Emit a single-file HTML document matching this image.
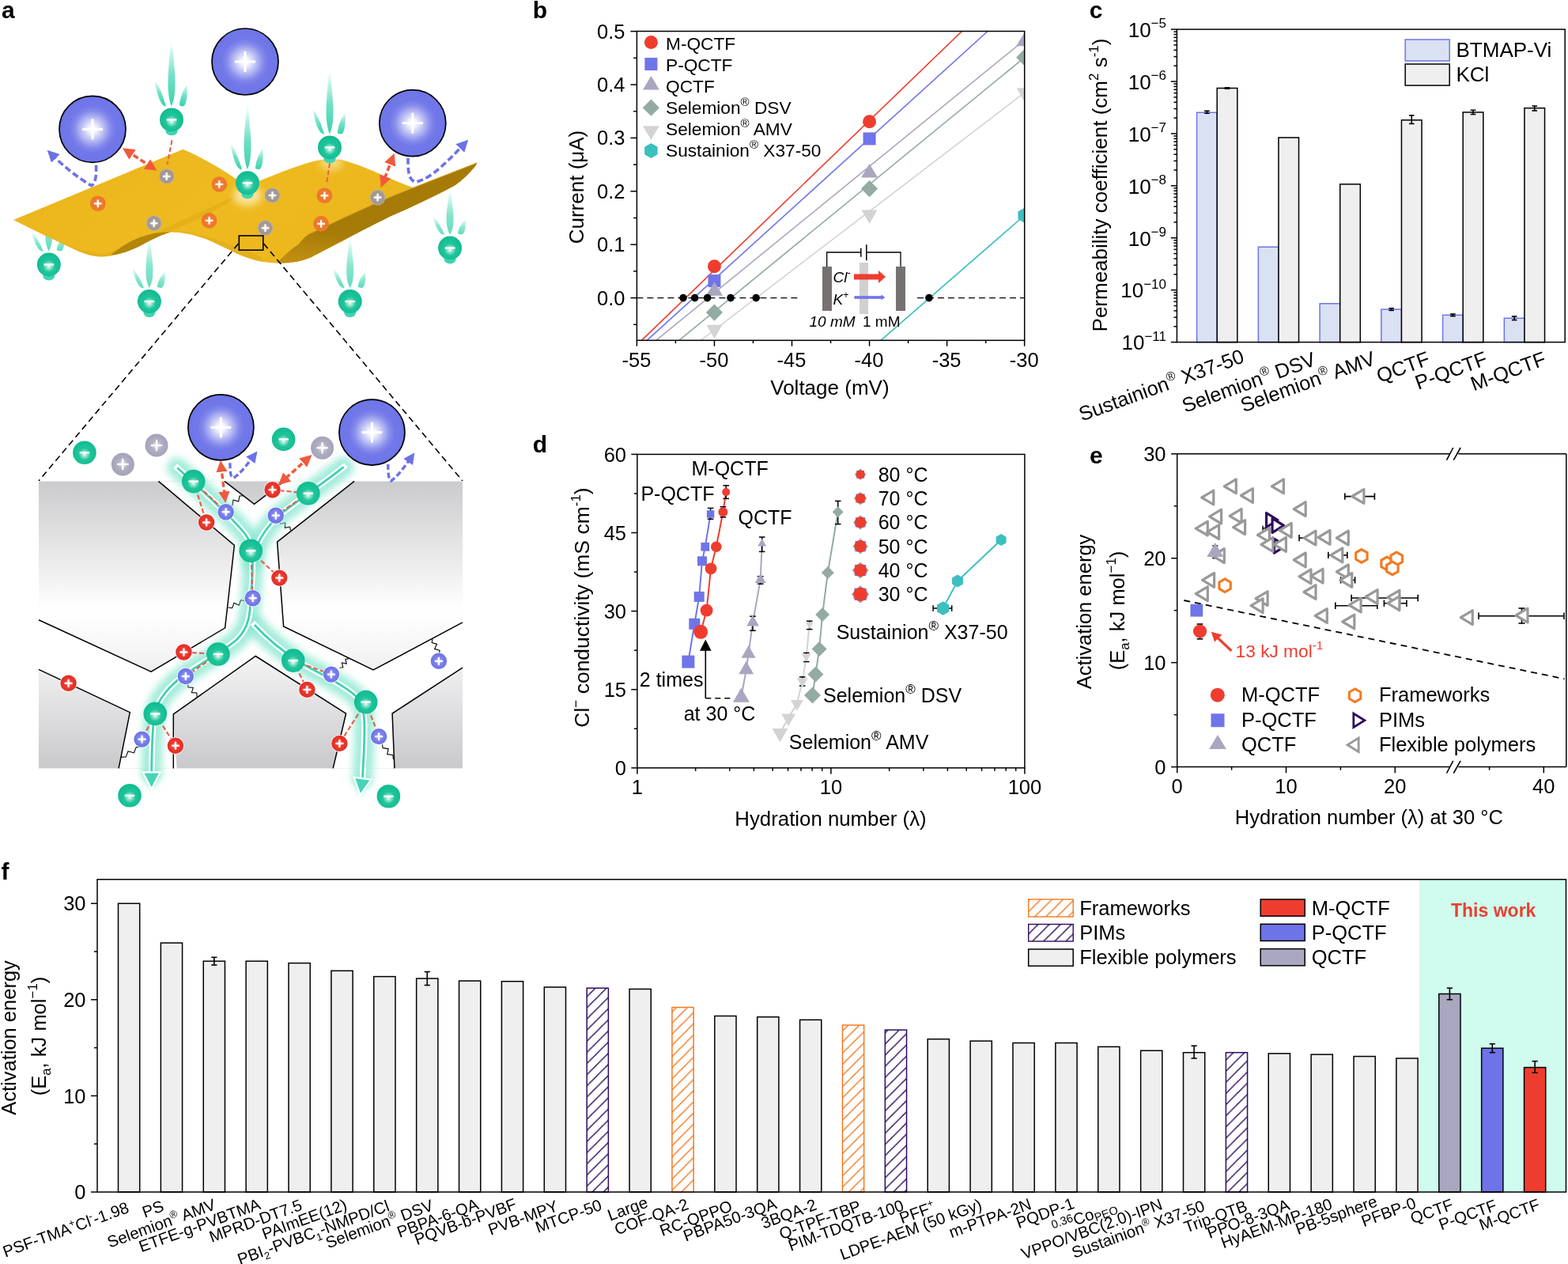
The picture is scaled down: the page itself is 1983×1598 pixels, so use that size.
<!DOCTYPE html>
<html><head><meta charset="utf-8"><title>Figure</title>
<style>html,body{margin:0;padding:0;background:#fff;overflow:hidden}svg{display:block}</style>
</head><body>
<svg width="1983" height="1598" viewBox="0 0 1983 1598" font-family="'Liberation Sans', Arial, Helvetica, sans-serif">
<rect width="1983" height="1598" fill="#fff"/>
<defs>
<radialGradient id="gBig" cx="0.5" cy="0.5" r="0.5" fx="0.5" fy="0.5">
 <stop offset="0" stop-color="#ffffff"/><stop offset="0.12" stop-color="#f3f4fd"/><stop offset="0.33" stop-color="#bcbff4"/>
 <stop offset="0.55" stop-color="#858aec"/><stop offset="0.7" stop-color="#7278e8"/><stop offset="1" stop-color="#6e75e8"/>
</radialGradient>
<radialGradient id="gGreen" cx="0.5" cy="0.55" r="0.5" fx="0.5" fy="0.58">
 <stop offset="0" stop-color="#f4fdfa"/><stop offset="0.22" stop-color="#8fe3cb"/>
 <stop offset="0.5" stop-color="#20c59b"/><stop offset="1" stop-color="#12bc91"/>
</radialGradient>
<radialGradient id="gGrey" cx="0.5" cy="0.5" r="0.5">
 <stop offset="0" stop-color="#e8e4e2"/><stop offset="0.4" stop-color="#a89d97"/><stop offset="0.8" stop-color="#a0958f"/><stop offset="1" stop-color="#bdb4af"/>
</radialGradient>
<radialGradient id="gGrey2" cx="0.5" cy="0.5" r="0.5">
 <stop offset="0" stop-color="#f2f2f6"/><stop offset="0.45" stop-color="#b1afc2"/><stop offset="1" stop-color="#a4a2b8"/>
</radialGradient>
<radialGradient id="gOrange" cx="0.5" cy="0.5" r="0.5">
 <stop offset="0" stop-color="#f9b68a"/><stop offset="0.4" stop-color="#ef7d30"/><stop offset="1" stop-color="#ec7528"/>
</radialGradient>
<radialGradient id="gRed" cx="0.5" cy="0.5" r="0.5">
 <stop offset="0" stop-color="#ffc9c3"/><stop offset="0.45" stop-color="#ec3a30"/><stop offset="1" stop-color="#e02e25"/>
</radialGradient>
<radialGradient id="gBlueS" cx="0.5" cy="0.5" r="0.5">
 <stop offset="0" stop-color="#e4e6fd"/><stop offset="0.45" stop-color="#7f84ec"/><stop offset="1" stop-color="#6b71e6"/>
</radialGradient>
<linearGradient id="gStreak" x1="0" y1="1" x2="0" y2="0">
 <stop offset="0" stop-color="#3ad3ad"/><stop offset="0.45" stop-color="#6fe0c5"/><stop offset="0.8" stop-color="#c8f5ea"/><stop offset="1" stop-color="#ffffff" stop-opacity="0.3"/>
</linearGradient>
<linearGradient id="gSheet" x1="0" y1="0" x2="1" y2="0.3">
 <stop offset="0" stop-color="#eab51c"/><stop offset="0.5" stop-color="#eeba1f"/><stop offset="1" stop-color="#ebb61d"/>
</linearGradient>
<linearGradient id="gSheetDark" x1="0" y1="1" x2="0.2" y2="0">
 <stop offset="0" stop-color="#c49211"/><stop offset="0.35" stop-color="#a67b08"/><stop offset="1" stop-color="#a57a07"/>
</linearGradient>
<linearGradient id="gGreyBg" x1="0" y1="0" x2="0" y2="1">
 <stop offset="0" stop-color="#cbcbcd"/><stop offset="0.45" stop-color="#ffffff"/><stop offset="0.6" stop-color="#f5f5f6"/><stop offset="1" stop-color="#c9c8cb"/>
</linearGradient>
<filter id="blur3" x="-50%" y="-50%" width="200%" height="200%"><feGaussianBlur stdDeviation="3"/></filter>
<filter id="blur1" x="-50%" y="-50%" width="200%" height="200%"><feGaussianBlur stdDeviation="1.2"/></filter>
<filter id="blur5" x="-50%" y="-50%" width="200%" height="200%"><feGaussianBlur stdDeviation="5"/></filter>
<marker id="arR" viewBox="0 0 10 10" refX="6" refY="5" markerWidth="4.2" markerHeight="4.2" orient="auto-start-reverse" markerUnits="strokeWidth"><path d="M0,0 L10,5 L0,10 z" fill="#ef5a3d"/></marker>
<marker id="arB" viewBox="0 0 10 10" refX="6" refY="5" markerWidth="4.2" markerHeight="4.2" orient="auto" markerUnits="strokeWidth"><path d="M0,0 L10,5 L0,10 z" fill="#6c72e6"/></marker>
</defs><g opacity="0.8"><g><path d="M61.8,317.5 C57.12,310.06 56.6,297.66 57.9,285.26 C59.72,269.9 60.8,257.5 61.8,257.5 C62.8,257.5 63.88,269.9 65.7,285.26 C67,297.66 66.48,310.06 61.8,317.5 Z" fill="url(#gStreak)"/><path d="M54.8,317.5 C48.8,318.5 43.8,308.82 39.8,292.7 C45.8,298.9 50.8,307.58 54.8,317.5 Z" fill="url(#gStreak)"/><path d="M75.8,317.5 C80.8,318 81.8,307.58 81.8,296.42 C76.8,302.62 71.8,310.06 71.8,316.5 Z" fill="url(#gStreak)"/></g></g><g opacity="0.8"><g><path d="M188.9,364.1 C184.22,356.18 183.7,342.98 185,329.78 C186.82,313.3 187.9,300.1 188.9,300.1 C189.9,300.1 190.98,313.3 192.8,329.78 C194.1,342.98 193.58,356.18 188.9,364.1 Z" fill="url(#gStreak)"/><path d="M181.9,364.1 C175.9,365.1 170.9,354.86 166.9,337.7 C172.9,344.3 177.9,353.54 181.9,364.1 Z" fill="url(#gStreak)"/><path d="M202.9,364.1 C207.9,364.6 208.9,353.54 208.9,341.66 C203.9,348.26 198.9,356.18 198.9,363.1 Z" fill="url(#gStreak)"/></g></g><g opacity="0.8"><g><path d="M442.7,364.1 C438.02,356.18 437.5,342.98 438.8,329.78 C440.62,313.3 441.7,300.1 442.7,300.1 C443.7,300.1 444.78,313.3 446.6,329.78 C447.9,342.98 447.38,356.18 442.7,364.1 Z" fill="url(#gStreak)"/><path d="M435.7,364.1 C429.7,365.1 424.7,354.86 420.7,337.7 C426.7,344.3 431.7,353.54 435.7,364.1 Z" fill="url(#gStreak)"/><path d="M456.7,364.1 C461.7,364.6 462.7,353.54 462.7,341.66 C457.7,348.26 452.7,356.18 452.7,363.1 Z" fill="url(#gStreak)"/></g></g><g opacity="0.8"><g><path d="M569.1,296.5 C564.42,289.3 563.9,277.3 565.2,265.3 C567.02,250.5 568.1,238.5 569.1,238.5 C570.1,238.5 571.18,250.5 573,265.3 C574.3,277.3 573.78,289.3 569.1,296.5 Z" fill="url(#gStreak)"/><path d="M562.1,296.5 C556.1,297.5 551.1,288.1 547.1,272.5 C553.1,278.5 558.1,286.9 562.1,296.5 Z" fill="url(#gStreak)"/><path d="M583.1,296.5 C588.1,297 589.1,286.9 589.1,276.1 C584.1,282.1 579.1,289.3 579.1,295.5 Z" fill="url(#gStreak)"/></g></g><clipPath id="sheetclip"><path d="M17,278 L231.4,188.8 C255,199 280,213 298,226 C306,231 318,233 330,228 C355,218 385,206 403,202.6 C412,201 422,201 432,202 C450,207 465,213 477.5,218.7 C495,226 510,233 522.7,237.3 L603.4,205.8 L601.8,209 C595,218 585,228 574.3,234.9 C550,248 520,262 493.6,273.6 C460,290 420,312 393.6,325.2 C380,331 365,333 350,332.6 C330,332 318,328 305,323 C290,316 278,310 265.8,304.5 C250,298 232,293 215.8,293.5 C200,298 188,305 177.5,310.7 C165,317 150,322.5 131.3,324.5 C120,325 110,322 100,318 C70,304 40,290 17,278 Z"/></clipPath><path d="M17,278 L231.4,188.8 C255,199 280,213 298,226 C306,231 318,233 330,228 C355,218 385,206 403,202.6 C412,201 422,201 432,202 C450,207 465,213 477.5,218.7 C495,226 510,233 522.7,237.3 L603.4,205.8 L601.8,209 C595,218 585,228 574.3,234.9 C550,248 520,262 493.6,273.6 C460,290 420,312 393.6,325.2 C380,331 365,333 350,332.6 C330,332 318,328 305,323 C290,316 278,310 265.8,304.5 C250,298 232,293 215.8,293.5 C200,298 188,305 177.5,310.7 C165,317 150,322.5 131.3,324.5 C120,325 110,322 100,318 C70,304 40,290 17,278 Z" fill="url(#gSheet)"/><g clip-path="url(#sheetclip)"><path d="M60,300 C90,312 110,320 131.3,321 C150,316 170,304 215.8,292 C250,292 290,308 330,325 L340,340 L50,340 Z" fill="#c9950f" opacity="0.22"/><path d="M160,312 C200,292 250,270 300,246 C290,258 250,280 200,298 C185,303 172,308 160,312Z" fill="#d4a014" opacity="0.35"/></g><path d="M140,322.5 C150,314 162,306 177,300 C190,295 203,293 215.8,293.5 C200,298 188,305 177.5,310.7 C165,317 152,321.5 140,322.5 Z" fill="#b3850a"/><path d="M522.7,237.3 L603.4,205.8 L601.8,209 C595,218 585,228 574.3,234.9 C550,248 520,262 493.6,273.6 C460,290 420,312 393.6,325.2 C380,331 365,333 350,332.6 C360,322 370,314 377.5,309 C383,302 388,297 393.6,294.6 C420,282 450,268 477.5,255.8 C495,248 510,242 522.7,237.3 Z" fill="url(#gSheetDark)"/><path d="M393.6,294.6 C420,282 450,268 477.5,255.8 C495,248 510,242 522.7,237.3 L603.4,205.8" fill="none" stroke="#d9a92a" stroke-width="1.2" opacity="0.8"/><ellipse cx="313" cy="247" rx="18" ry="13" fill="#fff3c4" opacity="0.75" filter="url(#blur5)"/><ellipse cx="419" cy="206" rx="14" ry="9" fill="#fff3c4" opacity="0.6" filter="url(#blur5)"/><g><path d="M217,134.4 C212.32,123.96 211.8,106.56 213.1,89.16 C214.92,66.8 216,49.4 217,49.4 C218,49.4 219.08,66.8 220.9,89.16 C222.2,106.56 221.68,123.96 217,134.4 Z" fill="url(#gStreak)"/><path d="M210,134.4 C204,135.4 199,122.22 195,99.6 C201,108.3 206,120.48 210,134.4 Z" fill="url(#gStreak)"/><path d="M231,134.4 C236,134.9 237,120.48 237,104.82 C232,113.52 227,123.96 227,133.4 Z" fill="url(#gStreak)"/></g><g><path d="M313,214.3 C308.32,203.98 307.8,186.78 309.1,169.58 C310.92,147.5 312,130.3 313,130.3 C314,130.3 315.08,147.5 316.9,169.58 C318.2,186.78 317.68,203.98 313,214.3 Z" fill="url(#gStreak)"/><path d="M306,214.3 C300,215.3 295,202.26 291,179.9 C297,188.5 302,200.54 306,214.3 Z" fill="url(#gStreak)"/><path d="M327,214.3 C332,214.8 333,200.54 333,185.06 C328,193.66 323,203.98 323,213.3 Z" fill="url(#gStreak)"/></g><g><path d="M417,169.4 C412.32,159.32 411.8,142.52 413.1,125.72 C414.92,104.2 416,87.4 417,87.4 C418,87.4 419.08,104.2 420.9,125.72 C422.2,142.52 421.68,159.32 417,169.4 Z" fill="url(#gStreak)"/><path d="M410,169.4 C404,170.4 399,157.64 395,135.8 C401,144.2 406,155.96 410,169.4 Z" fill="url(#gStreak)"/><path d="M431,169.4 C436,169.9 437,155.96 437,140.84 C432,149.24 427,159.32 427,168.4 Z" fill="url(#gStreak)"/></g><circle cx="310" cy="78" r="42" fill="url(#gBig)" stroke="#000" stroke-width="1.7"/><rect x="296.98" y="76.5" width="26.04" height="3" fill="#fff"/><rect x="308.5" y="64.98" width="3" height="26.04" fill="#fff"/><circle cx="117" cy="163.3" r="42" fill="url(#gBig)" stroke="#000" stroke-width="1.7"/><rect x="103.98" y="161.8" width="26.04" height="3" fill="#fff"/><rect x="115.5" y="150.28" width="3" height="26.04" fill="#fff"/><circle cx="521.8" cy="155.7" r="42" fill="url(#gBig)" stroke="#000" stroke-width="1.7"/><rect x="508.78" y="154.2" width="26.04" height="3" fill="#fff"/><rect x="520.3" y="142.68" width="3" height="26.04" fill="#fff"/><path d="M160,190.5 L193.5,212.5" fill="none" stroke="#ef5a3d" stroke-width="3.6" stroke-dasharray="7,3.5" marker-start="url(#arR)" marker-end="url(#arR)"/><path d="M496.5,199.5 L484,231.5" fill="none" stroke="#ef5a3d" stroke-width="3.6" stroke-dasharray="7,3.5" marker-start="url(#arR)" marker-end="url(#arR)"/><path d="M217.5,177.3 L211.5,208" fill="none" stroke="#ee5f4f" stroke-width="2.1" stroke-dasharray="6,3"/><path d="M417,206.4 L412.8,233" fill="none" stroke="#ee5f4f" stroke-width="2.1" stroke-dasharray="6,3"/><path d="M121.5,208.8 C122,222 121,232 115.8,234.6 C100,226 80,210 64,194" fill="none" stroke="#6c72e6" stroke-width="3.6" stroke-dasharray="8,4" marker-end="url(#arB)"/><path d="M516,199.7 C516,215 516,228 526,230 C545,226 565,205 588,181" fill="none" stroke="#6c72e6" stroke-width="3.6" stroke-dasharray="8,4" marker-end="url(#arB)"/><circle cx="210.7" cy="223" r="9.8" fill="url(#gGrey)"/><rect x="205.8" y="221.9" width="9.8" height="2.2" fill="#fff"/><rect x="209.6" y="218.1" width="2.2" height="9.8" fill="#fff"/><circle cx="194.7" cy="282.3" r="9.8" fill="url(#gGrey)"/><rect x="189.8" y="281.2" width="9.8" height="2.2" fill="#fff"/><rect x="193.6" y="277.4" width="2.2" height="9.8" fill="#fff"/><circle cx="344.5" cy="247" r="9.8" fill="url(#gGrey)"/><rect x="339.6" y="245.9" width="9.8" height="2.2" fill="#fff"/><rect x="343.4" y="242.1" width="2.2" height="9.8" fill="#fff"/><circle cx="335.5" cy="288.2" r="9.8" fill="url(#gGrey)"/><rect x="330.6" y="287.1" width="9.8" height="2.2" fill="#fff"/><rect x="334.4" y="283.3" width="2.2" height="9.8" fill="#fff"/><circle cx="477.6" cy="249.6" r="9.8" fill="url(#gGrey)"/><rect x="472.7" y="248.5" width="9.8" height="2.2" fill="#fff"/><rect x="476.5" y="244.7" width="2.2" height="9.8" fill="#fff"/><circle cx="123.8" cy="257.3" r="9.8" fill="url(#gOrange)"/><rect x="118.9" y="256.2" width="9.8" height="2.2" fill="#fff"/><rect x="122.7" y="252.4" width="2.2" height="9.8" fill="#fff"/><circle cx="277.3" cy="233" r="9.8" fill="url(#gOrange)"/><rect x="272.4" y="231.9" width="9.8" height="2.2" fill="#fff"/><rect x="276.2" y="228.1" width="2.2" height="9.8" fill="#fff"/><circle cx="264.6" cy="278.9" r="9.8" fill="url(#gOrange)"/><rect x="259.7" y="277.8" width="9.8" height="2.2" fill="#fff"/><rect x="263.5" y="274" width="2.2" height="9.8" fill="#fff"/><circle cx="410.4" cy="247.3" r="9.8" fill="url(#gOrange)"/><rect x="405.5" y="246.2" width="9.8" height="2.2" fill="#fff"/><rect x="409.3" y="242.4" width="2.2" height="9.8" fill="#fff"/><circle cx="406.1" cy="282.9" r="9.8" fill="url(#gOrange)"/><rect x="401.2" y="281.8" width="9.8" height="2.2" fill="#fff"/><rect x="405" y="278" width="2.2" height="9.8" fill="#fff"/><ellipse cx="217" cy="165.65" rx="7.5" ry="5.7" fill="#3fd4b2"/><circle cx="217" cy="151.4" r="15" fill="url(#gGreen)"/><rect x="210.7" y="150.2" width="12.6" height="2.4" fill="#fff"/><ellipse cx="313" cy="245.55" rx="7.5" ry="5.7" fill="#3fd4b2"/><circle cx="313" cy="231.3" r="15" fill="url(#gGreen)"/><rect x="306.7" y="230.1" width="12.6" height="2.4" fill="#fff"/><ellipse cx="417" cy="200.65" rx="7.5" ry="5.7" fill="#3fd4b2"/><circle cx="417" cy="186.4" r="15" fill="url(#gGreen)"/><rect x="410.7" y="185.2" width="12.6" height="2.4" fill="#fff"/><ellipse cx="61.8" cy="348.75" rx="7.5" ry="5.7" fill="#3fd4b2"/><circle cx="61.8" cy="334.5" r="15" fill="url(#gGreen)"/><rect x="55.5" y="333.3" width="12.6" height="2.4" fill="#fff"/><ellipse cx="188.9" cy="395.35" rx="7.5" ry="5.7" fill="#3fd4b2"/><circle cx="188.9" cy="381.1" r="15" fill="url(#gGreen)"/><rect x="182.6" y="379.9" width="12.6" height="2.4" fill="#fff"/><ellipse cx="442.7" cy="395.35" rx="7.5" ry="5.7" fill="#3fd4b2"/><circle cx="442.7" cy="381.1" r="15" fill="url(#gGreen)"/><rect x="436.4" y="379.9" width="12.6" height="2.4" fill="#fff"/><ellipse cx="569.1" cy="327.75" rx="7.5" ry="5.7" fill="#3fd4b2"/><circle cx="569.1" cy="313.5" r="15" fill="url(#gGreen)"/><rect x="562.8" y="312.3" width="12.6" height="2.4" fill="#fff"/><rect x="302.3" y="298" width="30.5" height="18.2" fill="none" stroke="#000" stroke-width="1.6"/><line x1="301.5" y1="308" x2="49" y2="608" stroke="#000" stroke-width="1.6" stroke-dasharray="8,5"/><line x1="333.5" y1="308" x2="585" y2="608" stroke="#000" stroke-width="1.6" stroke-dasharray="8,5"/><rect x="49" y="608.4" width="536" height="363" fill="url(#gGreyBg)"/><rect x="49" y="608.4" width="536" height="363" fill="#fff"/><clipPath id="cellclip"><path d="M49,608.4 L200.4,608.4 L296.4,689.4 L284.6,793.9 L191.1,849.2 L49,783.7 Z M283.9,608.4 L321.6,637.4 L359.4,608.4 Z M448.1,608.4 L585,608.4 L585,786.8 L472.1,847 L358.6,791.9 L350.6,685.2 Z M323.3,829.5 L437.6,902 L421.2,971.4 L223.6,971.4 L219.3,902.9 Z M49,846.4 L164.3,900.6 L150.1,971.4 L49,971.4 Z M585,844.2 L496.1,902 L498.9,971.4 L585,971.4 Z "/></clipPath><rect x="49" y="608.4" width="536" height="363" fill="url(#gGreyBg)" clip-path="url(#cellclip)"/><polyline points="200.4,608.4 296.4,689.4 284.6,793.9 191.1,849.2 49,783.7" fill="none" stroke="#000" stroke-width="1.5"/><polyline points="283.9,608.4 321.6,637.4 359.4,608.4" fill="none" stroke="#000" stroke-width="1.5"/><polyline points="448.1,608.4 350.6,685.2 358.6,791.9 472.1,847 585,786.8" fill="none" stroke="#000" stroke-width="1.5"/><polyline points="219.3,971.4 219.3,902.9 323.3,829.5 437.6,902 421.2,971.4" fill="none" stroke="#000" stroke-width="1.5"/><polyline points="49,846.4 164.3,900.6 150.1,971.4" fill="none" stroke="#000" stroke-width="1.5"/><polyline points="585,844.2 496.1,902 498.9,971.4" fill="none" stroke="#000" stroke-width="1.5"/><polyline points="288.5,639.4 293.86,639.05 295.02,632.13 301.78,633.97 302.94,627.05 308.3,626.7" fill="none" stroke="#000" stroke-width="1.1" stroke-linejoin="round"/><polyline points="288.5,768 293.72,768.69 296,762.15 302.2,765.25 304.48,758.71 309.7,759.4" fill="none" stroke="#000" stroke-width="1.1" stroke-linejoin="round"/><polyline points="353.5,657.8 354.58,662.27 360.88,660.95 360.22,667.35 366.52,666.03 367.6,670.5" fill="none" stroke="#000" stroke-width="1.1" stroke-linejoin="round"/><polyline points="429.7,844.2 433.8,843.78 432.38,837.84 438.32,839.26 436.9,833.32 441,832.9" fill="none" stroke="#000" stroke-width="1.1" stroke-linejoin="round"/><polyline points="237.7,864 237.8,868.83 244.38,869.31 242.32,875.59 248.9,876.07 249,880.9" fill="none" stroke="#000" stroke-width="1.1" stroke-linejoin="round"/><polyline points="178.4,944.4 172.16,944.61 169.4,951.81 162,949.69 159.24,956.89 153,957.1" fill="none" stroke="#000" stroke-width="1.1" stroke-linejoin="round"/><polyline points="483.4,940.2 484.1,945.67 491.16,946.61 489.74,953.59 496.8,954.53 497.5,960" fill="none" stroke="#000" stroke-width="1.1" stroke-linejoin="round"/><polyline points="555.4,827.2 556.09,822.23 549.61,820.35 552.69,814.35 546.21,812.47 546.9,807.5" fill="none" stroke="#000" stroke-width="1.1" stroke-linejoin="round"/><path d="M224.3,591.5 C250,615 290,650 310,675 C322,690 320,720 318,745 C316,770 318,790 300,808 C285,822 255,838 235,852 C215,866 198,885 195,905 C192,930 192,955 191.7,977" fill="none" stroke="#86e6cf" stroke-width="26" opacity="0.75" filter="url(#blur5)" stroke-linecap="round"/><path d="M434.6,590.4 C410,610 380,630 355,650 C335,667 322,690 319,710" fill="none" stroke="#86e6cf" stroke-width="26" opacity="0.75" filter="url(#blur5)" stroke-linecap="round"/><path d="M322,790 C340,810 360,825 380,838 C405,852 440,868 455,885 C463,900 461,930 460,955 C459,970 459,978 458.5,983" fill="none" stroke="#86e6cf" stroke-width="26" opacity="0.75" filter="url(#blur5)" stroke-linecap="round"/><path d="M224.3,591.5 C250,615 290,650 310,675 C322,690 320,720 318,745 C316,770 318,790 300,808 C285,822 255,838 235,852 C215,866 198,885 195,905 C192,930 192,955 191.7,977" fill="none" stroke="#ffffff" stroke-width="7.5" stroke-linecap="square"/><path d="M434.6,590.4 C410,610 380,630 355,650 C335,667 322,690 319,710" fill="none" stroke="#ffffff" stroke-width="7.5" stroke-linecap="square"/><path d="M322,790 C340,810 360,825 380,838 C405,852 440,868 455,885 C463,900 461,930 460,955 C459,970 459,978 458.5,983" fill="none" stroke="#ffffff" stroke-width="7.5" stroke-linecap="square"/><path d="M224.3,591.5 C250,615 290,650 310,675 C322,690 320,720 318,745 C316,770 318,790 300,808 C285,822 255,838 235,852 C215,866 198,885 195,905 C192,930 192,955 191.7,977" fill="none" stroke="#3dd2b1" stroke-width="2.8"/><path d="M434.6,590.4 C410,610 380,630 355,650 C335,667 322,690 319,710" fill="none" stroke="#3dd2b1" stroke-width="2.8"/><path d="M322,790 C340,810 360,825 380,838 C405,852 440,868 455,885 C463,900 461,930 460,955 C459,970 459,978 458.5,983" fill="none" stroke="#3dd2b1" stroke-width="2.8"/><g transform="translate(191.7,999.4) rotate(0)"><polygon points="0,0 -12.5,-24 12.5,-24" fill="#7fe6c9" opacity="0.6" filter="url(#blur3)"/><polygon points="0,-2 -11,-23 11,-23" fill="#47d4b5" stroke="#ffffff" stroke-width="2.2" stroke-linejoin="miter"/></g><g transform="translate(455.3,1007) rotate(8)"><polygon points="0,0 -12.5,-24 12.5,-24" fill="#7fe6c9" opacity="0.6" filter="url(#blur3)"/><polygon points="0,-2 -11,-23 11,-23" fill="#47d4b5" stroke="#ffffff" stroke-width="2.2" stroke-linejoin="miter"/></g><path d="M244.7,608.6 L261.1,660.5" fill="none" stroke="#ec5a48" stroke-width="2.1" stroke-dasharray="6,3"/><path d="M244.7,608.6 L285.7,647.2" fill="none" stroke="#ec5a48" stroke-width="2.1" stroke-dasharray="6,3"/><path d="M344.6,619.2 L389.8,623.7" fill="none" stroke="#ec5a48" stroke-width="2.1" stroke-dasharray="6,3"/><path d="M389.8,623.7 L348.8,651.7" fill="none" stroke="#ec5a48" stroke-width="2.1" stroke-dasharray="6,3"/><path d="M317.2,696.3 L353.3,730.6" fill="none" stroke="#ec5a48" stroke-width="2.1" stroke-dasharray="6,3"/><path d="M317.2,696.3 L319.7,756.2" fill="none" stroke="#ec5a48" stroke-width="2.1" stroke-dasharray="6,3"/><path d="M275.9,827 L232.4,824.5" fill="none" stroke="#ec5a48" stroke-width="2.1" stroke-dasharray="6,3"/><path d="M275.9,827 L234.8,855" fill="none" stroke="#ec5a48" stroke-width="2.1" stroke-dasharray="6,3"/><path d="M370.8,835.1 L418.9,852.6" fill="none" stroke="#ec5a48" stroke-width="2.1" stroke-dasharray="6,3"/><path d="M370.8,835.1 L388.4,871.9" fill="none" stroke="#ec5a48" stroke-width="2.1" stroke-dasharray="6,3"/><path d="M196.3,902.4 L179.5,934.6" fill="none" stroke="#ec5a48" stroke-width="2.1" stroke-dasharray="6,3"/><path d="M196.3,902.4 L221.9,942.7" fill="none" stroke="#ec5a48" stroke-width="2.1" stroke-dasharray="6,3"/><path d="M462.7,887.6 L429.4,939.9" fill="none" stroke="#ec5a48" stroke-width="2.1" stroke-dasharray="6,3"/><path d="M462.7,887.6 L479.1,931.1" fill="none" stroke="#ec5a48" stroke-width="2.1" stroke-dasharray="6,3"/><circle cx="285.7" cy="647.2" r="11" fill="#fff" opacity="0.8"/><circle cx="285.7" cy="647.2" r="10.2" fill="url(#gBlueS)"/><rect x="280.6" y="646.1" width="10.2" height="2.2" fill="#fff"/><rect x="284.6" y="642.1" width="2.2" height="10.2" fill="#fff"/><circle cx="348.8" cy="651.7" r="11" fill="#fff" opacity="0.8"/><circle cx="348.8" cy="651.7" r="10.2" fill="url(#gBlueS)"/><rect x="343.7" y="650.6" width="10.2" height="2.2" fill="#fff"/><rect x="347.7" y="646.6" width="2.2" height="10.2" fill="#fff"/><circle cx="319.7" cy="756.2" r="11" fill="#fff" opacity="0.8"/><circle cx="319.7" cy="756.2" r="10.2" fill="url(#gBlueS)"/><rect x="314.6" y="755.1" width="10.2" height="2.2" fill="#fff"/><rect x="318.6" y="751.1" width="2.2" height="10.2" fill="#fff"/><circle cx="234.8" cy="855" r="11" fill="#fff" opacity="0.8"/><circle cx="234.8" cy="855" r="10.2" fill="url(#gBlueS)"/><rect x="229.7" y="853.9" width="10.2" height="2.2" fill="#fff"/><rect x="233.7" y="849.9" width="2.2" height="10.2" fill="#fff"/><circle cx="418.9" cy="852.6" r="11" fill="#fff" opacity="0.8"/><circle cx="418.9" cy="852.6" r="10.2" fill="url(#gBlueS)"/><rect x="413.8" y="851.5" width="10.2" height="2.2" fill="#fff"/><rect x="417.8" y="847.5" width="2.2" height="10.2" fill="#fff"/><circle cx="179.5" cy="934.6" r="11" fill="#fff" opacity="0.8"/><circle cx="179.5" cy="934.6" r="10.2" fill="url(#gBlueS)"/><rect x="174.4" y="933.5" width="10.2" height="2.2" fill="#fff"/><rect x="178.4" y="929.5" width="2.2" height="10.2" fill="#fff"/><circle cx="479.1" cy="931.1" r="11" fill="#fff" opacity="0.8"/><circle cx="479.1" cy="931.1" r="10.2" fill="url(#gBlueS)"/><rect x="474" y="930" width="10.2" height="2.2" fill="#fff"/><rect x="478" y="926" width="2.2" height="10.2" fill="#fff"/><circle cx="554.9" cy="835.8" r="11" fill="#fff" opacity="0.8"/><circle cx="554.9" cy="835.8" r="10.2" fill="url(#gBlueS)"/><rect x="549.8" y="834.7" width="10.2" height="2.2" fill="#fff"/><rect x="553.8" y="830.7" width="2.2" height="10.2" fill="#fff"/><circle cx="261.1" cy="660.5" r="11" fill="#fff" opacity="0.8"/><circle cx="261.1" cy="660.5" r="10.2" fill="url(#gRed)"/><rect x="256" y="659.4" width="10.2" height="2.2" fill="#fff"/><rect x="260" y="655.4" width="2.2" height="10.2" fill="#fff"/><circle cx="344.6" cy="619.2" r="11" fill="#fff" opacity="0.8"/><circle cx="344.6" cy="619.2" r="10.2" fill="url(#gRed)"/><rect x="339.5" y="618.1" width="10.2" height="2.2" fill="#fff"/><rect x="343.5" y="614.1" width="2.2" height="10.2" fill="#fff"/><circle cx="353.3" cy="730.6" r="11" fill="#fff" opacity="0.8"/><circle cx="353.3" cy="730.6" r="10.2" fill="url(#gRed)"/><rect x="348.2" y="729.5" width="10.2" height="2.2" fill="#fff"/><rect x="352.2" y="725.5" width="2.2" height="10.2" fill="#fff"/><circle cx="232.4" cy="824.5" r="11" fill="#fff" opacity="0.8"/><circle cx="232.4" cy="824.5" r="10.2" fill="url(#gRed)"/><rect x="227.3" y="823.4" width="10.2" height="2.2" fill="#fff"/><rect x="231.3" y="819.4" width="2.2" height="10.2" fill="#fff"/><circle cx="86.6" cy="863.8" r="11" fill="#fff" opacity="0.8"/><circle cx="86.6" cy="863.8" r="10.2" fill="url(#gRed)"/><rect x="81.5" y="862.7" width="10.2" height="2.2" fill="#fff"/><rect x="85.5" y="858.7" width="2.2" height="10.2" fill="#fff"/><circle cx="388.4" cy="871.9" r="11" fill="#fff" opacity="0.8"/><circle cx="388.4" cy="871.9" r="10.2" fill="url(#gRed)"/><rect x="383.3" y="870.8" width="10.2" height="2.2" fill="#fff"/><rect x="387.3" y="866.8" width="2.2" height="10.2" fill="#fff"/><circle cx="221.9" cy="942.7" r="11" fill="#fff" opacity="0.8"/><circle cx="221.9" cy="942.7" r="10.2" fill="url(#gRed)"/><rect x="216.8" y="941.6" width="10.2" height="2.2" fill="#fff"/><rect x="220.8" y="937.6" width="2.2" height="10.2" fill="#fff"/><circle cx="429.4" cy="939.9" r="11" fill="#fff" opacity="0.8"/><circle cx="429.4" cy="939.9" r="10.2" fill="url(#gRed)"/><rect x="424.3" y="938.8" width="10.2" height="2.2" fill="#fff"/><rect x="428.3" y="934.8" width="2.2" height="10.2" fill="#fff"/><circle cx="244.7" cy="608.6" r="14.8" fill="url(#gGreen)"/><rect x="238.48" y="607.4" width="12.43" height="2.4" fill="#fff"/><circle cx="389.8" cy="623.7" r="14.8" fill="url(#gGreen)"/><rect x="383.58" y="622.5" width="12.43" height="2.4" fill="#fff"/><circle cx="317.2" cy="696.3" r="14.8" fill="url(#gGreen)"/><rect x="310.98" y="695.1" width="12.43" height="2.4" fill="#fff"/><circle cx="275.9" cy="827" r="14.8" fill="url(#gGreen)"/><rect x="269.68" y="825.8" width="12.43" height="2.4" fill="#fff"/><circle cx="370.8" cy="835.1" r="14.8" fill="url(#gGreen)"/><rect x="364.58" y="833.9" width="12.43" height="2.4" fill="#fff"/><circle cx="196.3" cy="902.4" r="14.8" fill="url(#gGreen)"/><rect x="190.08" y="901.2" width="12.43" height="2.4" fill="#fff"/><circle cx="462.7" cy="887.6" r="14.8" fill="url(#gGreen)"/><rect x="456.48" y="886.4" width="12.43" height="2.4" fill="#fff"/><circle cx="106.9" cy="572.2" r="14.8" fill="url(#gGreen)"/><rect x="100.68" y="571" width="12.43" height="2.4" fill="#fff"/><circle cx="358.6" cy="555.4" r="14.8" fill="url(#gGreen)"/><rect x="352.38" y="554.2" width="12.43" height="2.4" fill="#fff"/><circle cx="164" cy="1005.8" r="14.8" fill="url(#gGreen)"/><rect x="157.78" y="1004.6" width="12.43" height="2.4" fill="#fff"/><circle cx="491.4" cy="1006.8" r="14.8" fill="url(#gGreen)"/><rect x="485.18" y="1005.6" width="12.43" height="2.4" fill="#fff"/><circle cx="155.3" cy="586.9" r="14.5" fill="url(#gGrey2)"/><rect x="148.05" y="585.8" width="14.5" height="2.2" fill="#fff"/><rect x="154.2" y="579.65" width="2.2" height="14.5" fill="#fff"/><circle cx="198" cy="563.1" r="14.5" fill="url(#gGrey2)"/><rect x="190.75" y="562" width="14.5" height="2.2" fill="#fff"/><rect x="196.9" y="555.85" width="2.2" height="14.5" fill="#fff"/><circle cx="407.6" cy="566.2" r="14.5" fill="url(#gGrey2)"/><rect x="400.35" y="565.1" width="14.5" height="2.2" fill="#fff"/><rect x="406.5" y="558.95" width="2.2" height="14.5" fill="#fff"/><circle cx="279.4" cy="540.3" r="41.5" fill="url(#gBig)" stroke="#000" stroke-width="1.7"/><rect x="266.53" y="538.8" width="25.73" height="3" fill="#fff"/><rect x="277.9" y="527.43" width="3" height="25.73" fill="#fff"/><circle cx="470.4" cy="546.6" r="41.5" fill="url(#gBig)" stroke="#000" stroke-width="1.7"/><rect x="457.53" y="545.1" width="25.73" height="3" fill="#fff"/><rect x="468.9" y="533.74" width="3" height="25.73" fill="#fff"/><path d="M279.5,588 L284.5,630" fill="none" stroke="#ef5a3d" stroke-width="3.4" stroke-dasharray="7,3.5" marker-start="url(#arR)" marker-end="url(#arR)"/><path d="M390,579 L356.5,609" fill="none" stroke="#ef5a3d" stroke-width="3.6" stroke-dasharray="7,3.5" marker-start="url(#arR)" marker-end="url(#arR)"/><path d="M290.9,585.2 C291,595 291,603 295,604.4 C303,600 312,588 322,575" fill="none" stroke="#6c72e6" stroke-width="3.4" stroke-dasharray="7,3.5" marker-end="url(#arB)"/><path d="M490.7,586.9 C491,597 491,606 494.5,608 C503,602 512,590 521,577" fill="none" stroke="#6c72e6" stroke-width="3.4" stroke-dasharray="7,3.5" marker-end="url(#arB)"/>
<text x="1.9" y="22.8" font-size="30" text-anchor="start" fill="#000" font-weight="bold">a</text><text x="673.8" y="22.8" font-size="30" text-anchor="start" fill="#000" font-weight="bold">b</text><text x="1377.8" y="23.2" font-size="30" text-anchor="start" fill="#000" font-weight="bold">c</text><text x="673.8" y="571.8" font-size="30" text-anchor="start" fill="#000" font-weight="bold">d</text><text x="1377.9" y="586.3" font-size="30" text-anchor="start" fill="#000" font-weight="bold">e</text><text x="1.6" y="1111.8" font-size="30" text-anchor="start" fill="#000" font-weight="bold">f</text><clipPath id="clipb"><rect x="805.4" y="39.5" width="490.30000000000007" height="390.8"/></clipPath><line x1="805.4" y1="376.6" x2="1010" y2="376.6" stroke="#000" stroke-width="1.3" stroke-dasharray="8,5"/><line x1="1160" y1="376.6" x2="1295.7" y2="376.6" stroke="#000" stroke-width="1.3" stroke-dasharray="8,5"/><g clip-path="url(#clipb)"><line x1="811.4" y1="430.3" x2="1216.5" y2="39.5" stroke="#ee3d2f" stroke-width="1.6" /><line x1="818.1" y1="430.3" x2="1249.1" y2="39.5" stroke="#6f75e8" stroke-width="1.6" /><line x1="829.7" y1="430.3" x2="1295.7" y2="50.5" stroke="#a9a6bf" stroke-width="1.6" /><line x1="858.7" y1="430.3" x2="1295.7" y2="72.6" stroke="#93aba2" stroke-width="1.6" /><line x1="886.2" y1="430.3" x2="1295.7" y2="117.2" stroke="#d3d3d3" stroke-width="1.6" /><line x1="1113.9" y1="430.3" x2="1295.7" y2="272.3" stroke="#3cbfbf" stroke-width="1.6" /><circle cx="903.45" cy="336.8" r="8.5" fill="#ee3d2f" stroke="none" stroke-width="0"/><circle cx="1099.55" cy="153.8" r="8.5" fill="#ee3d2f" stroke="none" stroke-width="0"/><rect x="895.45" y="347.1" width="16" height="16" fill="#6f75e8" stroke="none" stroke-width="0"/><rect x="1091.55" y="167.4" width="16" height="16" fill="#6f75e8" stroke="none" stroke-width="0"/><polygon points="903.45,356.13 913.95,373.63 892.95,373.63" fill="#a9a6bf" stroke="none" stroke-width="0" stroke-linejoin="miter" /><polygon points="1099.55,207.03 1110.05,224.53 1089.05,224.53" fill="#a9a6bf" stroke="none" stroke-width="0" stroke-linejoin="miter" /><polygon points="1295.65,40.63 1306.15,58.13 1285.15,58.13" fill="#a9a6bf" stroke="none" stroke-width="0" stroke-linejoin="miter" /><polygon points="903.45,384.5 914.05,395.1 903.45,405.7 892.85,395.1" fill="#93aba2" stroke="none" stroke-width="0" stroke-linejoin="miter" /><polygon points="1099.55,228 1110.15,238.6 1099.55,249.2 1088.95,238.6" fill="#93aba2" stroke="none" stroke-width="0" stroke-linejoin="miter" /><polygon points="1295.65,62 1306.25,72.6 1295.65,83.2 1285.05,72.6" fill="#93aba2" stroke="none" stroke-width="0" stroke-linejoin="miter" /><polygon points="903.45,428.17 913.45,410.67 893.45,410.67" fill="#d3d3d3" stroke="none" stroke-width="0" stroke-linejoin="miter" /><polygon points="1099.55,282.97 1109.55,265.47 1089.55,265.47" fill="#d3d3d3" stroke="none" stroke-width="0" stroke-linejoin="miter" /><polygon points="1295.65,128.87 1305.65,111.37 1285.65,111.37" fill="#d3d3d3" stroke="none" stroke-width="0" stroke-linejoin="miter" /><polygon points="1295.65,262.8 1303.88,267.55 1303.88,277.05 1295.65,281.8 1287.42,277.05 1287.42,267.55" fill="#3cbfbf" stroke="none" stroke-width="0" stroke-linejoin="miter" /></g><circle cx="864" cy="376.6" r="4.8" fill="#000" stroke="none" stroke-width="0"/><circle cx="878.7" cy="376.6" r="4.8" fill="#000" stroke="none" stroke-width="0"/><circle cx="894.6" cy="376.6" r="4.8" fill="#000" stroke="none" stroke-width="0"/><circle cx="924" cy="376.6" r="4.8" fill="#000" stroke="none" stroke-width="0"/><circle cx="956.2" cy="376.6" r="4.8" fill="#000" stroke="none" stroke-width="0"/><circle cx="1174.9" cy="376.6" r="4.8" fill="#000" stroke="none" stroke-width="0"/><rect x="805.4" y="39.5" width="490.30000000000007" height="390.8" fill="none" stroke="#000" stroke-width="1.5"/><line x1="797.4" y1="376.6" x2="805.4" y2="376.6" stroke="#000" stroke-width="1.5" /><text x="790.5" y="385.6" font-size="25.5" text-anchor="end" fill="#000" >0.0</text><line x1="797.4" y1="309.2" x2="805.4" y2="309.2" stroke="#000" stroke-width="1.5" /><text x="790.5" y="318.2" font-size="25.5" text-anchor="end" fill="#000" >0.1</text><line x1="797.4" y1="241.8" x2="805.4" y2="241.8" stroke="#000" stroke-width="1.5" /><text x="790.5" y="250.8" font-size="25.5" text-anchor="end" fill="#000" >0.2</text><line x1="797.4" y1="174.4" x2="805.4" y2="174.4" stroke="#000" stroke-width="1.5" /><text x="790.5" y="183.4" font-size="25.5" text-anchor="end" fill="#000" >0.3</text><line x1="797.4" y1="107" x2="805.4" y2="107" stroke="#000" stroke-width="1.5" /><text x="790.5" y="116" font-size="25.5" text-anchor="end" fill="#000" >0.4</text><line x1="797.4" y1="39.6" x2="805.4" y2="39.6" stroke="#000" stroke-width="1.5" /><text x="790.5" y="48.6" font-size="25.5" text-anchor="end" fill="#000" >0.5</text><line x1="801.1" y1="410.3" x2="805.4" y2="410.3" stroke="#000" stroke-width="1.5" /><line x1="801.1" y1="342.9" x2="805.4" y2="342.9" stroke="#000" stroke-width="1.5" /><line x1="801.1" y1="275.5" x2="805.4" y2="275.5" stroke="#000" stroke-width="1.5" /><line x1="801.1" y1="208.1" x2="805.4" y2="208.1" stroke="#000" stroke-width="1.5" /><line x1="801.1" y1="140.7" x2="805.4" y2="140.7" stroke="#000" stroke-width="1.5" /><line x1="801.1" y1="73.3" x2="805.4" y2="73.3" stroke="#000" stroke-width="1.5" /><line x1="805.4" y1="430.3" x2="805.4" y2="437.7" stroke="#000" stroke-width="1.5" /><text x="804.9" y="463.6" font-size="25.5" text-anchor="middle" fill="#000" >-55</text><line x1="903.45" y1="430.3" x2="903.45" y2="437.7" stroke="#000" stroke-width="1.5" /><text x="902.95" y="463.6" font-size="25.5" text-anchor="middle" fill="#000" >-50</text><line x1="1001.5" y1="430.3" x2="1001.5" y2="437.7" stroke="#000" stroke-width="1.5" /><text x="1001" y="463.6" font-size="25.5" text-anchor="middle" fill="#000" >-45</text><line x1="1099.55" y1="430.3" x2="1099.55" y2="437.7" stroke="#000" stroke-width="1.5" /><text x="1099.05" y="463.6" font-size="25.5" text-anchor="middle" fill="#000" >-40</text><line x1="1197.6" y1="430.3" x2="1197.6" y2="437.7" stroke="#000" stroke-width="1.5" /><text x="1197.1" y="463.6" font-size="25.5" text-anchor="middle" fill="#000" >-35</text><line x1="1295.65" y1="430.3" x2="1295.65" y2="437.7" stroke="#000" stroke-width="1.5" /><text x="1295.15" y="463.6" font-size="25.5" text-anchor="middle" fill="#000" >-30</text><line x1="854.42" y1="430.3" x2="854.42" y2="434.1" stroke="#000" stroke-width="1.5" /><line x1="952.47" y1="430.3" x2="952.47" y2="434.1" stroke="#000" stroke-width="1.5" /><line x1="1050.53" y1="430.3" x2="1050.53" y2="434.1" stroke="#000" stroke-width="1.5" /><line x1="1148.58" y1="430.3" x2="1148.58" y2="434.1" stroke="#000" stroke-width="1.5" /><line x1="1246.62" y1="430.3" x2="1246.62" y2="434.1" stroke="#000" stroke-width="1.5" /><text x="1049.4" y="499.2" font-size="26" text-anchor="middle" fill="#000" >Voltage (mV)</text><text x="0" y="0" font-size="26" text-anchor="middle" fill="#000" transform="translate(737.5,236.5) rotate(-90)">Current (μA)</text><circle cx="823.4" cy="53.4" r="8.5" fill="#ee3d2f" stroke="none" stroke-width="0"/><rect x="815.4" y="73" width="16" height="16" fill="#6f75e8" stroke="none" stroke-width="0"/><polygon points="823.4,95.93 833.9,113.43 812.9,113.43" fill="#a9a6bf" stroke="none" stroke-width="0" stroke-linejoin="miter" /><polygon points="823.4,125.6 834,136.2 823.4,146.8 812.8,136.2" fill="#93aba2" stroke="none" stroke-width="0" stroke-linejoin="miter" /><polygon points="823.4,176.87 833.9,159.37 812.9,159.37" fill="#d3d3d3" stroke="none" stroke-width="0" stroke-linejoin="miter" /><polygon points="823.4,180.9 831.63,185.65 831.63,195.15 823.4,199.9 815.17,195.15 815.17,185.65" fill="#3cbfbf" stroke="none" stroke-width="0" stroke-linejoin="miter" /><text x="842" y="63" font-size="22.7" text-anchor="start" fill="#000" >M-QCTF</text><text x="842" y="89.5" font-size="22.7" text-anchor="start" fill="#000" >P-QCTF</text><text x="842" y="116.6" font-size="22.7" text-anchor="start" fill="#000" >QCTF</text><text x="842" y="143.9" font-size="22.7" text-anchor="start" fill="#000" >Selemion<tspan font-size="15" dy="-10">®</tspan><tspan dy="10"> </tspan>DSV</text><text x="842" y="171.4" font-size="22.7" text-anchor="start" fill="#000" >Selemion<tspan font-size="15" dy="-10">®</tspan><tspan dy="10"> </tspan>AMV</text><text x="842" y="198.2" font-size="22.7" text-anchor="start" fill="#000" >Sustainion<tspan font-size="15" dy="-10">®</tspan><tspan dy="10"> </tspan>X37-50</text><rect x="1040" y="337" width="12" height="56" fill="#767272"/><rect x="1133" y="337" width="12" height="56" fill="#767272"/><rect x="1087" y="332" width="11" height="65" fill="#d0d0d0"/><polyline points="1045.7,337 1045.7,319 1088.8,319" fill="none" stroke="#000" stroke-width="1.3"/><polyline points="1095.8,319 1139,319 1139,337" fill="none" stroke="#000" stroke-width="1.3"/><line x1="1088.8" y1="313.7" x2="1088.8" y2="324.8" stroke="#000" stroke-width="1.5" /><line x1="1095.8" y1="309.2" x2="1095.8" y2="329.3" stroke="#000" stroke-width="1.5" /><text x="1053.5" y="356.8" font-size="19" text-anchor="start" fill="#000" font-style="italic">Cl<tspan font-size="12" dy="-8">-</tspan></text><polygon points="1080,346.5 1111,346.5 1111,342 1120,350 1111,358 1111,353.5 1080,353.5" fill="#ee3d2f" stroke="none" stroke-width="0" stroke-linejoin="miter" /><text x="1053.5" y="384.8" font-size="19" text-anchor="start" fill="#000" font-style="italic">K<tspan font-size="12" dy="-8">+</tspan></text><rect x="1080.4" y="374.2" width="35" height="3.6" fill="#6f75e8"/><polygon points="1114.5,372.5 1119.3,375.9 1114.5,379.3" fill="#6f75e8" stroke="none" stroke-width="0" stroke-linejoin="miter" /><text x="1023.5" y="413" font-size="19" text-anchor="start" fill="#000" font-style="italic">10 mM</text><text x="1091" y="413" font-size="19" text-anchor="start" fill="#000" >1 mM</text><rect x="1513.6" y="142.24" width="25.6" height="290.36" fill="#dae1f3" stroke="#6f75e8" stroke-width="1.5"/><rect x="1539.2" y="111.45" width="25.6" height="321.15" fill="#efefef" stroke="#000" stroke-width="1.5"/><line x1="1526.4" y1="140.26" x2="1526.4" y2="143.23" stroke="#000" stroke-width="1.6" /><line x1="1523.1" y1="140.26" x2="1529.7" y2="140.26" stroke="#000" stroke-width="1.6" /><line x1="1523.1" y1="143.23" x2="1529.7" y2="143.23" stroke="#000" stroke-width="1.6" /><line x1="1552" y1="110.79" x2="1552" y2="112.11" stroke="#000" stroke-width="1.6" /><line x1="1548.7" y1="110.79" x2="1555.3" y2="110.79" stroke="#000" stroke-width="1.6" /><line x1="1548.7" y1="112.11" x2="1555.3" y2="112.11" stroke="#000" stroke-width="1.6" /><rect x="1591.35" y="312.24" width="25.6" height="120.36" fill="#dae1f3" stroke="#6f75e8" stroke-width="1.5"/><rect x="1616.95" y="173.94" width="25.6" height="258.66" fill="#efefef" stroke="#000" stroke-width="1.5"/><rect x="1669.1" y="383.82" width="25.6" height="48.78" fill="#dae1f3" stroke="#6f75e8" stroke-width="1.5"/><rect x="1694.7" y="232.87" width="25.6" height="199.73" fill="#efefef" stroke="#000" stroke-width="1.5"/><rect x="1746.85" y="391.07" width="25.6" height="41.53" fill="#dae1f3" stroke="#6f75e8" stroke-width="1.5"/><rect x="1772.45" y="151.8" width="25.6" height="280.81" fill="#efefef" stroke="#000" stroke-width="1.5"/><line x1="1759.65" y1="389.75" x2="1759.65" y2="392.39" stroke="#000" stroke-width="1.6" /><line x1="1756.35" y1="389.75" x2="1762.95" y2="389.75" stroke="#000" stroke-width="1.6" /><line x1="1756.35" y1="392.39" x2="1762.95" y2="392.39" stroke="#000" stroke-width="1.6" /><line x1="1785.25" y1="145.86" x2="1785.25" y2="156.41" stroke="#000" stroke-width="1.6" /><line x1="1781.95" y1="145.86" x2="1788.55" y2="145.86" stroke="#000" stroke-width="1.6" /><line x1="1781.95" y1="156.41" x2="1788.55" y2="156.41" stroke="#000" stroke-width="1.6" /><rect x="1824.6" y="398.32" width="25.6" height="34.28" fill="#dae1f3" stroke="#6f75e8" stroke-width="1.5"/><rect x="1850.2" y="141.91" width="25.6" height="290.69" fill="#efefef" stroke="#000" stroke-width="1.5"/><line x1="1837.4" y1="397.01" x2="1837.4" y2="399.64" stroke="#000" stroke-width="1.6" /><line x1="1834.1" y1="397.01" x2="1840.7" y2="397.01" stroke="#000" stroke-width="1.6" /><line x1="1834.1" y1="399.64" x2="1840.7" y2="399.64" stroke="#000" stroke-width="1.6" /><line x1="1863" y1="139.27" x2="1863" y2="144.54" stroke="#000" stroke-width="1.6" /><line x1="1859.7" y1="139.27" x2="1866.3" y2="139.27" stroke="#000" stroke-width="1.6" /><line x1="1859.7" y1="144.54" x2="1866.3" y2="144.54" stroke="#000" stroke-width="1.6" /><rect x="1902.35" y="402.28" width="25.6" height="30.32" fill="#dae1f3" stroke="#6f75e8" stroke-width="1.5"/><rect x="1927.95" y="136.63" width="25.6" height="295.97" fill="#efefef" stroke="#000" stroke-width="1.5"/><line x1="1915.15" y1="399.97" x2="1915.15" y2="404.59" stroke="#000" stroke-width="1.6" /><line x1="1911.85" y1="399.97" x2="1918.45" y2="399.97" stroke="#000" stroke-width="1.6" /><line x1="1911.85" y1="404.59" x2="1918.45" y2="404.59" stroke="#000" stroke-width="1.6" /><line x1="1940.75" y1="134" x2="1940.75" y2="139.93" stroke="#000" stroke-width="1.6" /><line x1="1937.45" y1="134" x2="1944.05" y2="134" stroke="#000" stroke-width="1.6" /><line x1="1937.45" y1="139.93" x2="1944.05" y2="139.93" stroke="#000" stroke-width="1.6" /><rect x="1488.4" y="37.1" width="490.8" height="395.5" fill="none" stroke="#000" stroke-width="1.5"/><line x1="1480.8" y1="432.6" x2="1488.4" y2="432.6" stroke="#000" stroke-width="1.5" /><text x="1475" y="442.4" font-size="26" text-anchor="end">10<tspan font-size="17" dy="-11.5">−11</tspan></text><line x1="1480.8" y1="366.68" x2="1488.4" y2="366.68" stroke="#000" stroke-width="1.5" /><text x="1475" y="376.48" font-size="26" text-anchor="end">10<tspan font-size="17" dy="-11.5">−10</tspan></text><line x1="1484.4" y1="412.76" x2="1488.4" y2="412.76" stroke="#000" stroke-width="1.5" /><line x1="1484.4" y1="401.15" x2="1488.4" y2="401.15" stroke="#000" stroke-width="1.5" /><line x1="1484.4" y1="392.91" x2="1488.4" y2="392.91" stroke="#000" stroke-width="1.5" /><line x1="1484.4" y1="386.53" x2="1488.4" y2="386.53" stroke="#000" stroke-width="1.5" /><line x1="1484.4" y1="381.31" x2="1488.4" y2="381.31" stroke="#000" stroke-width="1.5" /><line x1="1484.4" y1="376.89" x2="1488.4" y2="376.89" stroke="#000" stroke-width="1.5" /><line x1="1484.4" y1="373.07" x2="1488.4" y2="373.07" stroke="#000" stroke-width="1.5" /><line x1="1484.4" y1="369.7" x2="1488.4" y2="369.7" stroke="#000" stroke-width="1.5" /><line x1="1480.8" y1="300.77" x2="1488.4" y2="300.77" stroke="#000" stroke-width="1.5" /><text x="1475" y="310.57" font-size="26" text-anchor="end">10<tspan font-size="17" dy="-11.5">−9</tspan></text><line x1="1484.4" y1="346.84" x2="1488.4" y2="346.84" stroke="#000" stroke-width="1.5" /><line x1="1484.4" y1="335.23" x2="1488.4" y2="335.23" stroke="#000" stroke-width="1.5" /><line x1="1484.4" y1="327" x2="1488.4" y2="327" stroke="#000" stroke-width="1.5" /><line x1="1484.4" y1="320.61" x2="1488.4" y2="320.61" stroke="#000" stroke-width="1.5" /><line x1="1484.4" y1="315.39" x2="1488.4" y2="315.39" stroke="#000" stroke-width="1.5" /><line x1="1484.4" y1="310.98" x2="1488.4" y2="310.98" stroke="#000" stroke-width="1.5" /><line x1="1484.4" y1="307.15" x2="1488.4" y2="307.15" stroke="#000" stroke-width="1.5" /><line x1="1484.4" y1="303.78" x2="1488.4" y2="303.78" stroke="#000" stroke-width="1.5" /><line x1="1480.8" y1="234.85" x2="1488.4" y2="234.85" stroke="#000" stroke-width="1.5" /><text x="1475" y="244.65" font-size="26" text-anchor="end">10<tspan font-size="17" dy="-11.5">−8</tspan></text><line x1="1484.4" y1="280.92" x2="1488.4" y2="280.92" stroke="#000" stroke-width="1.5" /><line x1="1484.4" y1="269.32" x2="1488.4" y2="269.32" stroke="#000" stroke-width="1.5" /><line x1="1484.4" y1="261.08" x2="1488.4" y2="261.08" stroke="#000" stroke-width="1.5" /><line x1="1484.4" y1="254.69" x2="1488.4" y2="254.69" stroke="#000" stroke-width="1.5" /><line x1="1484.4" y1="249.47" x2="1488.4" y2="249.47" stroke="#000" stroke-width="1.5" /><line x1="1484.4" y1="245.06" x2="1488.4" y2="245.06" stroke="#000" stroke-width="1.5" /><line x1="1484.4" y1="241.24" x2="1488.4" y2="241.24" stroke="#000" stroke-width="1.5" /><line x1="1484.4" y1="237.87" x2="1488.4" y2="237.87" stroke="#000" stroke-width="1.5" /><line x1="1480.8" y1="168.93" x2="1488.4" y2="168.93" stroke="#000" stroke-width="1.5" /><text x="1475" y="178.73" font-size="26" text-anchor="end">10<tspan font-size="17" dy="-11.5">−7</tspan></text><line x1="1484.4" y1="215.01" x2="1488.4" y2="215.01" stroke="#000" stroke-width="1.5" /><line x1="1484.4" y1="203.4" x2="1488.4" y2="203.4" stroke="#000" stroke-width="1.5" /><line x1="1484.4" y1="195.16" x2="1488.4" y2="195.16" stroke="#000" stroke-width="1.5" /><line x1="1484.4" y1="188.78" x2="1488.4" y2="188.78" stroke="#000" stroke-width="1.5" /><line x1="1484.4" y1="183.56" x2="1488.4" y2="183.56" stroke="#000" stroke-width="1.5" /><line x1="1484.4" y1="179.14" x2="1488.4" y2="179.14" stroke="#000" stroke-width="1.5" /><line x1="1484.4" y1="175.32" x2="1488.4" y2="175.32" stroke="#000" stroke-width="1.5" /><line x1="1484.4" y1="171.95" x2="1488.4" y2="171.95" stroke="#000" stroke-width="1.5" /><line x1="1480.8" y1="103.02" x2="1488.4" y2="103.02" stroke="#000" stroke-width="1.5" /><text x="1475" y="112.82" font-size="26" text-anchor="end">10<tspan font-size="17" dy="-11.5">−6</tspan></text><line x1="1484.4" y1="149.09" x2="1488.4" y2="149.09" stroke="#000" stroke-width="1.5" /><line x1="1484.4" y1="137.48" x2="1488.4" y2="137.48" stroke="#000" stroke-width="1.5" /><line x1="1484.4" y1="129.25" x2="1488.4" y2="129.25" stroke="#000" stroke-width="1.5" /><line x1="1484.4" y1="122.86" x2="1488.4" y2="122.86" stroke="#000" stroke-width="1.5" /><line x1="1484.4" y1="117.64" x2="1488.4" y2="117.64" stroke="#000" stroke-width="1.5" /><line x1="1484.4" y1="113.23" x2="1488.4" y2="113.23" stroke="#000" stroke-width="1.5" /><line x1="1484.4" y1="109.4" x2="1488.4" y2="109.4" stroke="#000" stroke-width="1.5" /><line x1="1484.4" y1="106.03" x2="1488.4" y2="106.03" stroke="#000" stroke-width="1.5" /><line x1="1480.8" y1="37.1" x2="1488.4" y2="37.1" stroke="#000" stroke-width="1.5" /><text x="1475" y="46.9" font-size="26" text-anchor="end">10<tspan font-size="17" dy="-11.5">−5</tspan></text><line x1="1484.4" y1="83.17" x2="1488.4" y2="83.17" stroke="#000" stroke-width="1.5" /><line x1="1484.4" y1="71.57" x2="1488.4" y2="71.57" stroke="#000" stroke-width="1.5" /><line x1="1484.4" y1="63.33" x2="1488.4" y2="63.33" stroke="#000" stroke-width="1.5" /><line x1="1484.4" y1="56.94" x2="1488.4" y2="56.94" stroke="#000" stroke-width="1.5" /><line x1="1484.4" y1="51.72" x2="1488.4" y2="51.72" stroke="#000" stroke-width="1.5" /><line x1="1484.4" y1="47.31" x2="1488.4" y2="47.31" stroke="#000" stroke-width="1.5" /><line x1="1484.4" y1="43.49" x2="1488.4" y2="43.49" stroke="#000" stroke-width="1.5" /><line x1="1484.4" y1="40.12" x2="1488.4" y2="40.12" stroke="#000" stroke-width="1.5" /><rect x="1777.2" y="50" width="56" height="27" fill="#dae1f3" stroke="#6f75e8" stroke-width="1.5"/><rect x="1777.2" y="81" width="56" height="27" fill="#efefef" stroke="#000" stroke-width="1.5"/><text x="1841.5" y="72.3" font-size="26" text-anchor="start" fill="#000" >BTMAP-Vi</text><text x="1841.5" y="102.6" font-size="26" text-anchor="start" fill="#000" >KCl</text><text x="0" y="0" font-size="26" text-anchor="middle" fill="#000" transform="translate(1400,234) rotate(-90)">Permeability coefficient (cm<tspan font-size="17" dy="-11.5">2</tspan><tspan dy="11.5"> s</tspan><tspan font-size="17" dy="-11.5">-1</tspan><tspan dy="11.5">)</tspan></text><text font-size="25.5" text-anchor="end" transform="translate(1575.1,457.5) rotate(-20)">Sustainion<tspan font-size="16" dy="-10">®</tspan><tspan dy="10"> </tspan>X37-50</text><text font-size="25.5" text-anchor="end" transform="translate(1665.6,461.3) rotate(-20)">Selemion<tspan font-size="16" dy="-10">®</tspan><tspan dy="10"> </tspan>DSV</text><text font-size="25.5" text-anchor="end" transform="translate(1741,460.3) rotate(-20)">Selemion<tspan font-size="16" dy="-10">®</tspan><tspan dy="10"> </tspan>AMV</text><text font-size="25.5" text-anchor="end" transform="translate(1809.9,460.5) rotate(-20)">QCTF</text><text font-size="25.5" text-anchor="end" transform="translate(1882.6,460.5) rotate(-20)">P-QCTF</text><text font-size="25.5" text-anchor="end" transform="translate(1956.9,460.7) rotate(-20)">M-QCTF</text><clipPath id="clipd"><rect x="805.9" y="574.4" width="490.0000000000001" height="396.4"/></clipPath><polyline points="898.6,650 891.8,691.3 888,709.3 884.2,754.4 878.3,788.8 870.4,836.6" fill="none" stroke="#6f75e8" stroke-width="2"/><polyline points="918.2,622.1 914.4,647.3 905.8,691.3 899,718.8 893.6,771.7 886.2,798.8" fill="none" stroke="#ee3d2f" stroke-width="2"/><polyline points="963.7,687.4 961.7,733 952,787 946.6,826.5 943.7,846.8 937.4,881.7" fill="none" stroke="#a9a6bf" stroke-width="2"/><polyline points="1023.7,789.3 1019.8,829.9 1014.7,861.4 1007.9,889.6 997.1,907.6 986.5,926.8" fill="none" stroke="#d3d3d3" stroke-width="2"/><polyline points="1059.7,647.3 1046.9,724 1040.1,776.9 1036.1,820.4 1031.5,852.4 1027.5,879" fill="none" stroke="#93aba2" stroke-width="2"/><polyline points="1192.6,769 1211,734.5 1266.1,682.6" fill="none" stroke="#3cbfbf" stroke-width="2"/><line x1="918.2" y1="613.8" x2="918.2" y2="630.4" stroke="#000" stroke-width="1.5" /><line x1="914.4" y1="613.8" x2="922" y2="613.8" stroke="#000" stroke-width="1.5" /><line x1="914.4" y1="630.4" x2="922" y2="630.4" stroke="#000" stroke-width="1.5" /><line x1="914.4" y1="640.7" x2="914.4" y2="653.8" stroke="#000" stroke-width="1.5" /><line x1="910.6" y1="640.7" x2="918.2" y2="640.7" stroke="#000" stroke-width="1.5" /><line x1="910.6" y1="653.8" x2="918.2" y2="653.8" stroke="#000" stroke-width="1.5" /><line x1="898.6" y1="642.4" x2="898.6" y2="656.3" stroke="#000" stroke-width="1.5" /><line x1="894.8" y1="642.4" x2="902.4" y2="642.4" stroke="#000" stroke-width="1.5" /><line x1="894.8" y1="656.3" x2="902.4" y2="656.3" stroke="#000" stroke-width="1.5" /><line x1="963.7" y1="679" x2="963.7" y2="697.4" stroke="#000" stroke-width="1.5" /><line x1="959.9" y1="679" x2="967.5" y2="679" stroke="#000" stroke-width="1.5" /><line x1="959.9" y1="697.4" x2="967.5" y2="697.4" stroke="#000" stroke-width="1.5" /><line x1="952" y1="779.2" x2="952" y2="797.2" stroke="#000" stroke-width="1.5" /><line x1="948.2" y1="779.2" x2="955.8" y2="779.2" stroke="#000" stroke-width="1.5" /><line x1="948.2" y1="797.2" x2="955.8" y2="797.2" stroke="#000" stroke-width="1.5" /><line x1="1059.7" y1="633.4" x2="1059.7" y2="662.6" stroke="#000" stroke-width="1.5" /><line x1="1055.9" y1="633.4" x2="1063.5" y2="633.4" stroke="#000" stroke-width="1.5" /><line x1="1055.9" y1="662.6" x2="1063.5" y2="662.6" stroke="#000" stroke-width="1.5" /><line x1="1023.7" y1="785.2" x2="1023.7" y2="795.6" stroke="#000" stroke-width="1.5" /><line x1="1019.9" y1="785.2" x2="1027.5" y2="785.2" stroke="#000" stroke-width="1.5" /><line x1="1019.9" y1="795.6" x2="1027.5" y2="795.6" stroke="#000" stroke-width="1.5" /><line x1="1019.8" y1="825.4" x2="1019.8" y2="836.6" stroke="#000" stroke-width="1.5" /><line x1="1016" y1="825.4" x2="1023.6" y2="825.4" stroke="#000" stroke-width="1.5" /><line x1="1016" y1="836.6" x2="1023.6" y2="836.6" stroke="#000" stroke-width="1.5" /><line x1="1014.7" y1="855.8" x2="1014.7" y2="867" stroke="#000" stroke-width="1.5" /><line x1="1010.9" y1="855.8" x2="1018.5" y2="855.8" stroke="#000" stroke-width="1.5" /><line x1="1010.9" y1="867" x2="1018.5" y2="867" stroke="#000" stroke-width="1.5" /><line x1="961.7" y1="728.7" x2="961.7" y2="738.2" stroke="#000" stroke-width="1.5" /><line x1="957.9" y1="728.7" x2="965.5" y2="728.7" stroke="#000" stroke-width="1.5" /><line x1="957.9" y1="738.2" x2="965.5" y2="738.2" stroke="#000" stroke-width="1.5" /><line x1="1180.1" y1="769" x2="1203.7" y2="769" stroke="#000" stroke-width="1.5" /><line x1="1180.1" y1="765.2" x2="1180.1" y2="772.8" stroke="#000" stroke-width="1.5" /><line x1="1203.7" y1="765.2" x2="1203.7" y2="772.8" stroke="#000" stroke-width="1.5" /><rect x="893.85" y="645.25" width="9.5" height="9.5" fill="#6f75e8" stroke="none" stroke-width="0"/><rect x="886.4" y="685.9" width="10.8" height="10.8" fill="#6f75e8" stroke="none" stroke-width="0"/><rect x="882" y="703.3" width="12" height="12" fill="#6f75e8" stroke="none" stroke-width="0"/><rect x="877.7" y="747.9" width="13" height="13" fill="#6f75e8" stroke="none" stroke-width="0"/><rect x="871.3" y="781.8" width="14" height="14" fill="#6f75e8" stroke="none" stroke-width="0"/><rect x="862.4" y="828.6" width="16" height="16" fill="#6f75e8" stroke="none" stroke-width="0"/><circle cx="918.2" cy="622.1" r="5" fill="#ee3d2f" stroke="none" stroke-width="0"/><circle cx="914.4" cy="647.3" r="6" fill="#ee3d2f" stroke="none" stroke-width="0"/><circle cx="905.8" cy="691.3" r="6.8" fill="#ee3d2f" stroke="none" stroke-width="0"/><circle cx="899" cy="718.8" r="7.4" fill="#ee3d2f" stroke="none" stroke-width="0"/><circle cx="893.6" cy="771.7" r="7.9" fill="#ee3d2f" stroke="none" stroke-width="0"/><circle cx="886.2" cy="798.8" r="9" fill="#ee3d2f" stroke="none" stroke-width="0"/><polygon points="963.7,681.05 969.2,690.58 958.2,690.58" fill="#a9a6bf" stroke="none" stroke-width="0" stroke-linejoin="miter" /><polygon points="961.7,724.92 968.7,737.04 954.7,737.04" fill="#a9a6bf" stroke="none" stroke-width="0" stroke-linejoin="miter" /><polygon points="952,777.76 960,791.62 944,791.62" fill="#a9a6bf" stroke="none" stroke-width="0" stroke-linejoin="miter" /><polygon points="946.6,816.11 955.6,831.7 937.6,831.7" fill="#a9a6bf" stroke="none" stroke-width="0" stroke-linejoin="miter" /><polygon points="943.7,835.83 953.2,852.28 934.2,852.28" fill="#a9a6bf" stroke="none" stroke-width="0" stroke-linejoin="miter" /><polygon points="937.4,869.58 947.9,887.76 926.9,887.76" fill="#a9a6bf" stroke="none" stroke-width="0" stroke-linejoin="miter" /><polygon points="1023.7,795.07 1028.7,786.41 1018.7,786.41" fill="#d3d3d3" stroke="none" stroke-width="0" stroke-linejoin="miter" /><polygon points="1019.8,836.83 1025.8,826.44 1013.8,826.44" fill="#d3d3d3" stroke="none" stroke-width="0" stroke-linejoin="miter" /><polygon points="1014.7,869.48 1021.7,857.36 1007.7,857.36" fill="#d3d3d3" stroke="none" stroke-width="0" stroke-linejoin="miter" /><polygon points="1007.9,898.84 1015.9,884.98 999.9,884.98" fill="#d3d3d3" stroke="none" stroke-width="0" stroke-linejoin="miter" /><polygon points="997.1,917.99 1006.1,902.4 988.1,902.4" fill="#d3d3d3" stroke="none" stroke-width="0" stroke-linejoin="miter" /><polygon points="986.5,938.35 996.5,921.03 976.5,921.03" fill="#d3d3d3" stroke="none" stroke-width="0" stroke-linejoin="miter" /><polygon points="1059.7,640.3 1066.7,647.3 1059.7,654.3 1052.7,647.3" fill="#93aba2" stroke="none" stroke-width="0" stroke-linejoin="miter" /><polygon points="1046.9,716 1054.9,724 1046.9,732 1038.9,724" fill="#93aba2" stroke="none" stroke-width="0" stroke-linejoin="miter" /><polygon points="1040.1,767.9 1049.1,776.9 1040.1,785.9 1031.1,776.9" fill="#93aba2" stroke="none" stroke-width="0" stroke-linejoin="miter" /><polygon points="1036.1,810.9 1045.6,820.4 1036.1,829.9 1026.6,820.4" fill="#93aba2" stroke="none" stroke-width="0" stroke-linejoin="miter" /><polygon points="1031.5,842.4 1041.5,852.4 1031.5,862.4 1021.5,852.4" fill="#93aba2" stroke="none" stroke-width="0" stroke-linejoin="miter" /><polygon points="1027.5,868.5 1038,879 1027.5,889.5 1017,879" fill="#93aba2" stroke="none" stroke-width="0" stroke-linejoin="miter" /><polygon points="1192.6,760.25 1200.18,764.62 1200.18,773.38 1192.6,777.75 1185.02,773.38 1185.02,764.62" fill="#3cbfbf" stroke="none" stroke-width="0" stroke-linejoin="miter" /><polygon points="1211,726.5 1217.93,730.5 1217.93,738.5 1211,742.5 1204.07,738.5 1204.07,730.5" fill="#3cbfbf" stroke="none" stroke-width="0" stroke-linejoin="miter" /><polygon points="1266.1,675.1 1272.6,678.85 1272.6,686.35 1266.1,690.1 1259.6,686.35 1259.6,678.85" fill="#3cbfbf" stroke="none" stroke-width="0" stroke-linejoin="miter" /><line x1="892.3" y1="822" x2="892.3" y2="882.8" stroke="#000" stroke-width="1.6" /><line x1="892.3" y1="882.8" x2="927" y2="882.8" stroke="#000" stroke-width="1.6" stroke-dasharray="7,5"/><polygon points="892.3,808.5 899.6,822.8 885,822.8" fill="#000" stroke="none" stroke-width="0" stroke-linejoin="miter" /><rect x="805.9" y="574.4" width="490" height="396.4" fill="none" stroke="#000" stroke-width="1.5"/><line x1="798.3" y1="970.8" x2="805.9" y2="970.8" stroke="#000" stroke-width="1.5" /><text x="792" y="979.9" font-size="25.5" text-anchor="end" fill="#000" >0</text><line x1="798.3" y1="871.7" x2="805.9" y2="871.7" stroke="#000" stroke-width="1.5" /><text x="792" y="880.8" font-size="25.5" text-anchor="end" fill="#000" >15</text><line x1="798.3" y1="772.6" x2="805.9" y2="772.6" stroke="#000" stroke-width="1.5" /><text x="792" y="781.7" font-size="25.5" text-anchor="end" fill="#000" >30</text><line x1="798.3" y1="673.5" x2="805.9" y2="673.5" stroke="#000" stroke-width="1.5" /><text x="792" y="682.6" font-size="25.5" text-anchor="end" fill="#000" >45</text><line x1="798.3" y1="574.4" x2="805.9" y2="574.4" stroke="#000" stroke-width="1.5" /><text x="792" y="583.5" font-size="25.5" text-anchor="end" fill="#000" >60</text><line x1="801.9" y1="921.25" x2="805.9" y2="921.25" stroke="#000" stroke-width="1.5" /><line x1="801.9" y1="822.15" x2="805.9" y2="822.15" stroke="#000" stroke-width="1.5" /><line x1="801.9" y1="723.05" x2="805.9" y2="723.05" stroke="#000" stroke-width="1.5" /><line x1="801.9" y1="623.95" x2="805.9" y2="623.95" stroke="#000" stroke-width="1.5" /><line x1="805.9" y1="970.8" x2="805.9" y2="978.4" stroke="#000" stroke-width="1.5" /><text x="805.9" y="1003.7" font-size="25.5" text-anchor="middle" fill="#000" >1</text><line x1="1050.9" y1="970.8" x2="1050.9" y2="978.4" stroke="#000" stroke-width="1.5" /><text x="1050.9" y="1003.7" font-size="25.5" text-anchor="middle" fill="#000" >10</text><line x1="1295.9" y1="970.8" x2="1295.9" y2="978.4" stroke="#000" stroke-width="1.5" /><text x="1295.9" y="1003.7" font-size="25.5" text-anchor="middle" fill="#000" >100</text><line x1="879.65" y1="970.8" x2="879.65" y2="974.8" stroke="#000" stroke-width="1.5" /><line x1="922.79" y1="970.8" x2="922.79" y2="974.8" stroke="#000" stroke-width="1.5" /><line x1="953.4" y1="970.8" x2="953.4" y2="974.8" stroke="#000" stroke-width="1.5" /><line x1="977.15" y1="970.8" x2="977.15" y2="974.8" stroke="#000" stroke-width="1.5" /><line x1="996.55" y1="970.8" x2="996.55" y2="974.8" stroke="#000" stroke-width="1.5" /><line x1="1012.95" y1="970.8" x2="1012.95" y2="974.8" stroke="#000" stroke-width="1.5" /><line x1="1027.16" y1="970.8" x2="1027.16" y2="974.8" stroke="#000" stroke-width="1.5" /><line x1="1039.69" y1="970.8" x2="1039.69" y2="974.8" stroke="#000" stroke-width="1.5" /><line x1="1124.65" y1="970.8" x2="1124.65" y2="974.8" stroke="#000" stroke-width="1.5" /><line x1="1167.79" y1="970.8" x2="1167.79" y2="974.8" stroke="#000" stroke-width="1.5" /><line x1="1198.4" y1="970.8" x2="1198.4" y2="974.8" stroke="#000" stroke-width="1.5" /><line x1="1222.15" y1="970.8" x2="1222.15" y2="974.8" stroke="#000" stroke-width="1.5" /><line x1="1241.55" y1="970.8" x2="1241.55" y2="974.8" stroke="#000" stroke-width="1.5" /><line x1="1257.95" y1="970.8" x2="1257.95" y2="974.8" stroke="#000" stroke-width="1.5" /><line x1="1272.16" y1="970.8" x2="1272.16" y2="974.8" stroke="#000" stroke-width="1.5" /><line x1="1284.69" y1="970.8" x2="1284.69" y2="974.8" stroke="#000" stroke-width="1.5" /><text x="1050.5" y="1044" font-size="25.8" text-anchor="middle" fill="#000" >Hydration number (λ)</text><text x="0" y="0" font-size="26.5" text-anchor="middle" fill="#000" transform="translate(745,768) rotate(-90)">Cl<tspan font-size="17" dy="-11.5">−</tspan><tspan dy="11.5"> conductivity (mS cm</tspan><tspan font-size="17" dy="-11.5">-1</tspan><tspan dy="11.5">)</tspan></text><polygon points="1088.1,592.52 1095.38,599.8 1088.1,607.08 1080.82,599.8" fill="#93aba2" stroke="none" stroke-width="0" stroke-linejoin="miter" /><rect x="1083.2" y="594.9" width="9.8" height="9.8" fill="#6f75e8" stroke="none" stroke-width="0"/><polygon points="1088.1,592.69 1094.26,603.36 1081.94,603.36" fill="#a9a6bf" stroke="none" stroke-width="0" stroke-linejoin="miter" /><circle cx="1088.1" cy="599.8" r="5.6" fill="#ee3d2f" stroke="none" stroke-width="0"/><text x="1110.7" y="608.8" font-size="25" text-anchor="start" fill="#000" >80 °C</text><polygon points="1088.1,621.78 1096.42,630.1 1088.1,638.42 1079.78,630.1" fill="#93aba2" stroke="none" stroke-width="0" stroke-linejoin="miter" /><rect x="1082.5" y="624.5" width="11.2" height="11.2" fill="#6f75e8" stroke="none" stroke-width="0"/><polygon points="1088.1,621.97 1095.14,634.16 1081.06,634.16" fill="#a9a6bf" stroke="none" stroke-width="0" stroke-linejoin="miter" /><circle cx="1088.1" cy="630.1" r="6.4" fill="#ee3d2f" stroke="none" stroke-width="0"/><text x="1110.7" y="639.1" font-size="25" text-anchor="start" fill="#000" >70 °C</text><polygon points="1088.1,651.17 1097.33,660.4 1088.1,669.63 1078.87,660.4" fill="#93aba2" stroke="none" stroke-width="0" stroke-linejoin="miter" /><rect x="1081.89" y="654.19" width="12.42" height="12.42" fill="#6f75e8" stroke="none" stroke-width="0"/><polygon points="1088.1,651.38 1095.91,664.91 1080.29,664.91" fill="#a9a6bf" stroke="none" stroke-width="0" stroke-linejoin="miter" /><circle cx="1088.1" cy="660.4" r="7.1" fill="#ee3d2f" stroke="none" stroke-width="0"/><text x="1110.7" y="669.4" font-size="25" text-anchor="start" fill="#000" >60 °C</text><polygon points="1088.1,680.82 1097.98,690.7 1088.1,700.58 1078.22,690.7" fill="#93aba2" stroke="none" stroke-width="0" stroke-linejoin="miter" /><rect x="1081.45" y="684.05" width="13.3" height="13.3" fill="#6f75e8" stroke="none" stroke-width="0"/><polygon points="1088.1,681.05 1096.46,695.53 1079.74,695.53" fill="#a9a6bf" stroke="none" stroke-width="0" stroke-linejoin="miter" /><circle cx="1088.1" cy="690.7" r="7.6" fill="#ee3d2f" stroke="none" stroke-width="0"/><text x="1110.7" y="699.7" font-size="25" text-anchor="start" fill="#000" >50 °C</text><polygon points="1088.1,710.47 1098.63,721 1088.1,731.53 1077.57,721" fill="#93aba2" stroke="none" stroke-width="0" stroke-linejoin="miter" /><rect x="1081.01" y="713.91" width="14.17" height="14.17" fill="#6f75e8" stroke="none" stroke-width="0"/><polygon points="1088.1,710.71 1097.01,726.14 1079.19,726.14" fill="#a9a6bf" stroke="none" stroke-width="0" stroke-linejoin="miter" /><circle cx="1088.1" cy="721" r="8.1" fill="#ee3d2f" stroke="none" stroke-width="0"/><text x="1110.7" y="730" font-size="25" text-anchor="start" fill="#000" >40 °C</text><polygon points="1088.1,739.92 1099.47,751.3 1088.1,762.67 1076.72,751.3" fill="#93aba2" stroke="none" stroke-width="0" stroke-linejoin="miter" /><rect x="1080.44" y="743.64" width="15.31" height="15.31" fill="#6f75e8" stroke="none" stroke-width="0"/><polygon points="1088.1,740.19 1097.72,756.86 1078.47,756.86" fill="#a9a6bf" stroke="none" stroke-width="0" stroke-linejoin="miter" /><circle cx="1088.1" cy="751.3" r="8.75" fill="#ee3d2f" stroke="none" stroke-width="0"/><text x="1110.7" y="760.3" font-size="25" text-anchor="start" fill="#000" >30 °C</text><text x="874.5" y="600.8" font-size="25" text-anchor="start" fill="#000" >M-QCTF</text><text x="810.4" y="632.6" font-size="25" text-anchor="start" fill="#000" >P-QCTF</text><text x="933.6" y="663" font-size="25" text-anchor="start" fill="#000" >QCTF</text><text x="1057.7" y="808" font-size="25" text-anchor="start" fill="#000" >Sustainion<tspan font-size="17" dy="-11">®</tspan><tspan dy="11"> </tspan>X37-50</text><text x="1041" y="887.8" font-size="25" text-anchor="start" fill="#000" >Selemion<tspan font-size="17" dy="-11">®</tspan><tspan dy="11"> </tspan>DSV</text><text x="997.8" y="946.7" font-size="25" text-anchor="start" fill="#000" >Selemion<tspan font-size="17" dy="-11">®</tspan><tspan dy="11"> </tspan>AMV</text><text x="808.8" y="867.8" font-size="25" text-anchor="start" fill="#000" >2 times</text><text x="864.7" y="911" font-size="25" text-anchor="start" fill="#000" >at 30 °C</text><clipPath id="clipe"><rect x="1488.7" y="573.8" width="492.1" height="395.8"/></clipPath><line x1="1497.3" y1="759" x2="1978.6" y2="858.3" stroke="#000" stroke-width="1.8" stroke-dasharray="8,6"/><line x1="1700.8" y1="627.6" x2="1738.4" y2="627.6" stroke="#000" stroke-width="1.6" /><line x1="1700.8" y1="623.4" x2="1700.8" y2="631.8" stroke="#000" stroke-width="1.6" /><line x1="1738.4" y1="623.4" x2="1738.4" y2="631.8" stroke="#000" stroke-width="1.6" /><line x1="1643" y1="680.1" x2="1660" y2="680.1" stroke="#000" stroke-width="1.6" /><line x1="1643" y1="675.9" x2="1643" y2="684.3" stroke="#000" stroke-width="1.6" /><line x1="1660" y1="675.9" x2="1660" y2="684.3" stroke="#000" stroke-width="1.6" /><line x1="1679.8" y1="701.9" x2="1703.8" y2="701.9" stroke="#000" stroke-width="1.6" /><line x1="1679.8" y1="697.7" x2="1679.8" y2="706.1" stroke="#000" stroke-width="1.6" /><line x1="1703.8" y1="697.7" x2="1703.8" y2="706.1" stroke="#000" stroke-width="1.6" /><line x1="1695.6" y1="733.4" x2="1713.6" y2="733.4" stroke="#000" stroke-width="1.6" /><line x1="1695.6" y1="729.2" x2="1695.6" y2="737.6" stroke="#000" stroke-width="1.6" /><line x1="1713.6" y1="729.2" x2="1713.6" y2="737.6" stroke="#000" stroke-width="1.6" /><line x1="1709.1" y1="756" x2="1793.2" y2="756" stroke="#000" stroke-width="1.6" /><line x1="1709.1" y1="751.8" x2="1709.1" y2="760.2" stroke="#000" stroke-width="1.6" /><line x1="1793.2" y1="751.8" x2="1793.2" y2="760.2" stroke="#000" stroke-width="1.6" /><line x1="1688.8" y1="765.7" x2="1741.8" y2="765.7" stroke="#000" stroke-width="1.6" /><line x1="1688.8" y1="761.5" x2="1688.8" y2="769.9" stroke="#000" stroke-width="1.6" /><line x1="1741.8" y1="761.5" x2="1741.8" y2="769.9" stroke="#000" stroke-width="1.6" /><line x1="1750.4" y1="762.7" x2="1778.9" y2="762.7" stroke="#000" stroke-width="1.6" /><line x1="1750.4" y1="758.5" x2="1750.4" y2="766.9" stroke="#000" stroke-width="1.6" /><line x1="1778.9" y1="758.5" x2="1778.9" y2="766.9" stroke="#000" stroke-width="1.6" /><line x1="1870" y1="778.7" x2="1978" y2="778.7" stroke="#000" stroke-width="1.6" /><line x1="1870" y1="774.5" x2="1870" y2="782.9" stroke="#000" stroke-width="1.6" /><line x1="1978" y1="774.5" x2="1978" y2="782.9" stroke="#000" stroke-width="1.6" /><line x1="1924.5" y1="769" x2="1924.5" y2="788" stroke="#000" stroke-width="1.6" /><line x1="1920.5" y1="769" x2="1928.5" y2="769" stroke="#000" stroke-width="1.6" /><line x1="1920.5" y1="788" x2="1928.5" y2="788" stroke="#000" stroke-width="1.6" /><line x1="1597" y1="667.8" x2="1601" y2="667.8" stroke="#000" stroke-width="1.4" /><line x1="1597" y1="664.8" x2="1597" y2="670.8" stroke="#000" stroke-width="1.4" /><line x1="1601" y1="664.8" x2="1601" y2="670.8" stroke="#000" stroke-width="1.4" /><line x1="1536.8" y1="690" x2="1536.8" y2="705.6" stroke="#000" stroke-width="1.6" /><line x1="1533.3" y1="690" x2="1540.3" y2="690" stroke="#000" stroke-width="1.6" /><line x1="1533.3" y1="705.6" x2="1540.3" y2="705.6" stroke="#000" stroke-width="1.6" /><line x1="1517.5" y1="789" x2="1517.5" y2="807.8" stroke="#000" stroke-width="1.6" /><line x1="1513.7" y1="789" x2="1521.3" y2="789" stroke="#000" stroke-width="1.6" /><line x1="1513.7" y1="807.8" x2="1521.3" y2="807.8" stroke="#000" stroke-width="1.6" /><polygon points="1616.07,657.5 1601.57,648.5 1601.57,666.5" fill="#fff" stroke="#2e0b5e" stroke-width="3.2" stroke-linejoin="round" /><polygon points="1623.57,664.4 1609.07,655.4 1609.07,673.4" fill="#fff" stroke="#2e0b5e" stroke-width="3.2" stroke-linejoin="round" /><polygon points="1625.87,690.2 1611.37,681.2 1611.37,699.2" fill="#fff" stroke="#2e0b5e" stroke-width="3.2" stroke-linejoin="round" /><polygon points="1548.3,614.8 1563.3,605.9 1563.3,623.7" fill="#fff" stroke="#999999" stroke-width="3.2" stroke-linejoin="round" /><polygon points="1519.8,629 1534.8,620.1 1534.8,637.9" fill="#fff" stroke="#999999" stroke-width="3.2" stroke-linejoin="round" /><polygon points="1569.4,626.5 1584.4,617.6 1584.4,635.4" fill="#fff" stroke="#999999" stroke-width="3.2" stroke-linejoin="round" /><polygon points="1608.4,614.8 1623.4,605.9 1623.4,623.7" fill="#fff" stroke="#999999" stroke-width="3.2" stroke-linejoin="round" /><polygon points="1636.2,643.6 1651.2,634.7 1651.2,652.5" fill="#fff" stroke="#999999" stroke-width="3.2" stroke-linejoin="round" /><polygon points="1529.6,653.1 1544.6,644.2 1544.6,662" fill="#fff" stroke="#999999" stroke-width="3.2" stroke-linejoin="round" /><polygon points="1555.1,652.3 1570.1,643.4 1570.1,661.2" fill="#fff" stroke="#999999" stroke-width="3.2" stroke-linejoin="round" /><polygon points="1512.3,668.1 1527.3,659.2 1527.3,677" fill="#fff" stroke="#999999" stroke-width="3.2" stroke-linejoin="round" /><polygon points="1526.6,672.6 1541.6,663.7 1541.6,681.5" fill="#fff" stroke="#999999" stroke-width="3.2" stroke-linejoin="round" /><polygon points="1559.6,666.6 1574.6,657.7 1574.6,675.5" fill="#fff" stroke="#999999" stroke-width="3.2" stroke-linejoin="round" /><polygon points="1533.3,702.6 1548.3,693.7 1548.3,711.5" fill="#fff" stroke="#999999" stroke-width="3.2" stroke-linejoin="round" /><polygon points="1590.4,676.4 1605.4,667.5 1605.4,685.3" fill="#fff" stroke="#999999" stroke-width="3.2" stroke-linejoin="round" /><polygon points="1594.9,688.4 1609.9,679.5 1609.9,697.3" fill="#fff" stroke="#999999" stroke-width="3.2" stroke-linejoin="round" /><polygon points="1618.2,670.4 1633.2,661.5 1633.2,679.3" fill="#fff" stroke="#999999" stroke-width="3.2" stroke-linejoin="round" /><polygon points="1611.4,688.4 1626.4,679.5 1626.4,697.3" fill="#fff" stroke="#999999" stroke-width="3.2" stroke-linejoin="round" /><polygon points="1649,680.1 1664,671.2 1664,689" fill="#fff" stroke="#999999" stroke-width="3.2" stroke-linejoin="round" /><polygon points="1667,679.4 1682,670.5 1682,688.3" fill="#fff" stroke="#999999" stroke-width="3.2" stroke-linejoin="round" /><polygon points="1690.3,680.1 1705.3,671.2 1705.3,689" fill="#fff" stroke="#999999" stroke-width="3.2" stroke-linejoin="round" /><polygon points="1636.2,707.9 1651.2,699 1651.2,716.8" fill="#fff" stroke="#999999" stroke-width="3.2" stroke-linejoin="round" /><polygon points="1682.8,701.9 1697.8,693 1697.8,710.8" fill="#fff" stroke="#999999" stroke-width="3.2" stroke-linejoin="round" /><polygon points="1520.6,733.4 1535.6,724.5 1535.6,742.3" fill="#fff" stroke="#999999" stroke-width="3.2" stroke-linejoin="round" /><polygon points="1512.3,750.7 1527.3,741.8 1527.3,759.6" fill="#fff" stroke="#999999" stroke-width="3.2" stroke-linejoin="round" /><polygon points="1643,728.9 1658,720 1658,737.8" fill="#fff" stroke="#999999" stroke-width="3.2" stroke-linejoin="round" /><polygon points="1658,728.2 1673,719.3 1673,737.1" fill="#fff" stroke="#999999" stroke-width="3.2" stroke-linejoin="round" /><polygon points="1649,748.5 1664,739.6 1664,757.4" fill="#fff" stroke="#999999" stroke-width="3.2" stroke-linejoin="round" /><polygon points="1690.3,722.9 1705.3,714 1705.3,731.8" fill="#fff" stroke="#999999" stroke-width="3.2" stroke-linejoin="round" /><polygon points="1694.8,733.4 1709.8,724.5 1709.8,742.3" fill="#fff" stroke="#999999" stroke-width="3.2" stroke-linejoin="round" /><polygon points="1588.1,756.7 1603.1,747.8 1603.1,765.6" fill="#fff" stroke="#999999" stroke-width="3.2" stroke-linejoin="round" /><polygon points="1582.1,765.7 1597.1,756.8 1597.1,774.6" fill="#fff" stroke="#999999" stroke-width="3.2" stroke-linejoin="round" /><polygon points="1663.3,778.5 1678.3,769.6 1678.3,787.4" fill="#fff" stroke="#999999" stroke-width="3.2" stroke-linejoin="round" /><polygon points="1697.8,786 1712.8,777.1 1712.8,794.9" fill="#fff" stroke="#999999" stroke-width="3.2" stroke-linejoin="round" /><polygon points="1709.9,627.5 1724.9,618.6 1724.9,636.4" fill="#fff" stroke="#999999" stroke-width="3.2" stroke-linejoin="round" /><polygon points="1727.1,754.5 1742.1,745.6 1742.1,763.4" fill="#fff" stroke="#999999" stroke-width="3.2" stroke-linejoin="round" /><polygon points="1754.9,755.2 1769.9,746.3 1769.9,764.1" fill="#fff" stroke="#999999" stroke-width="3.2" stroke-linejoin="round" /><polygon points="1706.1,765 1721.1,756.1 1721.1,773.9" fill="#fff" stroke="#999999" stroke-width="3.2" stroke-linejoin="round" /><polygon points="1754.9,762.7 1769.9,753.8 1769.9,771.6" fill="#fff" stroke="#999999" stroke-width="3.2" stroke-linejoin="round" /><polygon points="1847.3,780.7 1862.3,771.8 1862.3,789.6" fill="#fff" stroke="#999999" stroke-width="3.2" stroke-linejoin="round" /><polygon points="1917,778 1932,769.1 1932,786.9" fill="#fff" stroke="#999999" stroke-width="3.2" stroke-linejoin="round" /><polygon points="1549.1,731.9 1556.29,736.05 1556.29,744.35 1549.1,748.5 1541.91,744.35 1541.91,736.05" fill="#fff" stroke="#f37a21" stroke-width="3.1" stroke-linejoin="miter" /><polygon points="1721.9,694.6 1729.09,698.75 1729.09,707.05 1721.9,711.2 1714.71,707.05 1714.71,698.75" fill="#fff" stroke="#f37a21" stroke-width="3.1" stroke-linejoin="miter" /><polygon points="1754.1,704.1 1761.29,708.25 1761.29,716.55 1754.1,720.7 1746.91,716.55 1746.91,708.25" fill="#fff" stroke="#f37a21" stroke-width="3.1" stroke-linejoin="miter" /><polygon points="1766.2,698.1 1773.39,702.25 1773.39,710.55 1766.2,714.7 1759.01,710.55 1759.01,702.25" fill="#fff" stroke="#f37a21" stroke-width="3.1" stroke-linejoin="miter" /><polygon points="1760.9,710.1 1768.09,714.25 1768.09,722.55 1760.9,726.7 1753.71,722.55 1753.71,714.25" fill="#fff" stroke="#f37a21" stroke-width="3.1" stroke-linejoin="miter" /><polygon points="1536.8,686.1 1547.3,704.1 1526.3,704.1" fill="#a9a6bf" stroke="none" stroke-width="0" stroke-linejoin="miter" /><rect x="1505.4" y="763.8" width="15.8" height="15.8" fill="#6f75e8" stroke="none" stroke-width="0"/><circle cx="1517.5" cy="798" r="8.6" fill="#ee3d2f" stroke="none" stroke-width="0"/><line x1="1557.4" y1="822.8" x2="1538" y2="804.5" stroke="#ee3d2f" stroke-width="3.2" /><polygon points="1531.8,798.8 1545.5,802.5 1536,811.5" fill="#ee3d2f" stroke="none" stroke-width="0" stroke-linejoin="miter" /><text x="1562.6" y="831.2" font-size="22.7" text-anchor="start" fill="#ee3d2f" >13 kJ mol<tspan font-size="15.5" dy="-10">-1</tspan></text><line x1="1488.7" y1="573.8" x2="1488.7" y2="969.6" stroke="#000" stroke-width="1.5" /><line x1="1488.7" y1="969.6" x2="1833.2" y2="969.6" stroke="#000" stroke-width="1.5" /><line x1="1844.3" y1="969.6" x2="1980.8" y2="969.6" stroke="#000" stroke-width="1.5" /><line x1="1980.8" y1="573.8" x2="1980.8" y2="969.6" stroke="#000" stroke-width="1.5" /><line x1="1488.7" y1="573.8" x2="1833.2" y2="573.8" stroke="#000" stroke-width="1.5" /><line x1="1844.3" y1="573.8" x2="1980.8" y2="573.8" stroke="#000" stroke-width="1.5" /><line x1="1829.5" y1="581.7" x2="1837.8" y2="566" stroke="#000" stroke-width="1.6" /><line x1="1838.3" y1="581.7" x2="1847.1" y2="566" stroke="#000" stroke-width="1.6" /><line x1="1829.5" y1="977.5" x2="1837.8" y2="961.8" stroke="#000" stroke-width="1.6" /><line x1="1838.3" y1="977.5" x2="1847.1" y2="961.8" stroke="#000" stroke-width="1.6" /><line x1="1481.1" y1="969.6" x2="1488.7" y2="969.6" stroke="#000" stroke-width="1.5" /><text x="1474.5" y="978.6" font-size="25.5" text-anchor="end" fill="#000" >0</text><line x1="1481.1" y1="837.67" x2="1488.7" y2="837.67" stroke="#000" stroke-width="1.5" /><text x="1474.5" y="846.67" font-size="25.5" text-anchor="end" fill="#000" >10</text><line x1="1481.1" y1="705.73" x2="1488.7" y2="705.73" stroke="#000" stroke-width="1.5" /><text x="1474.5" y="714.73" font-size="25.5" text-anchor="end" fill="#000" >20</text><line x1="1481.1" y1="573.8" x2="1488.7" y2="573.8" stroke="#000" stroke-width="1.5" /><text x="1474.5" y="582.8" font-size="25.5" text-anchor="end" fill="#000" >30</text><line x1="1484.7" y1="903.63" x2="1488.7" y2="903.63" stroke="#000" stroke-width="1.5" /><line x1="1484.7" y1="771.7" x2="1488.7" y2="771.7" stroke="#000" stroke-width="1.5" /><line x1="1484.7" y1="639.77" x2="1488.7" y2="639.77" stroke="#000" stroke-width="1.5" /><line x1="1488.7" y1="969.6" x2="1488.7" y2="977.2" stroke="#000" stroke-width="1.5" /><text x="1488.7" y="1002.6" font-size="25.5" text-anchor="middle" fill="#000" >0</text><line x1="1626.5" y1="969.6" x2="1626.5" y2="977.2" stroke="#000" stroke-width="1.5" /><text x="1626.5" y="1002.6" font-size="25.5" text-anchor="middle" fill="#000" >10</text><line x1="1764.3" y1="969.6" x2="1764.3" y2="977.2" stroke="#000" stroke-width="1.5" /><text x="1764.3" y="1002.6" font-size="25.5" text-anchor="middle" fill="#000" >20</text><line x1="1952.3" y1="969.6" x2="1952.3" y2="977.2" stroke="#000" stroke-width="1.5" /><text x="1952.3" y="1002.6" font-size="25.5" text-anchor="middle" fill="#000" >40</text><line x1="1557.6" y1="969.6" x2="1557.6" y2="973.6" stroke="#000" stroke-width="1.5" /><line x1="1695.4" y1="969.6" x2="1695.4" y2="973.6" stroke="#000" stroke-width="1.5" /><line x1="1883.6" y1="969.6" x2="1883.6" y2="973.6" stroke="#000" stroke-width="1.5" /><text x="1731.3" y="1041.9" font-size="25.5" text-anchor="middle" fill="#000" >Hydration number (λ) at 30 °C</text><text x="0" y="0" font-size="25.5" text-anchor="middle" fill="#000" transform="translate(1380,773.5) rotate(-90)">Activation energy</text><text x="0" y="0" font-size="25.5" text-anchor="middle" fill="#000" transform="translate(1421.5,772) rotate(-90)">(E<tspan font-size="17" dy="6">a</tspan><tspan dy="-6">, kJ mol</tspan><tspan font-size="17" dy="-11">−1</tspan><tspan dy="11">)</tspan></text><circle cx="1539.8" cy="878.7" r="9" fill="#ee3d2f" stroke="none" stroke-width="0"/><rect x="1531.5" y="902.2" width="17" height="17" fill="#6f75e8" stroke="none" stroke-width="0"/><polygon points="1540,929 1550.9,947 1529.1,947" fill="#a9a6bf" stroke="none" stroke-width="0" stroke-linejoin="miter" /><polygon points="1713.6,870.9 1720.79,875.05 1720.79,883.35 1713.6,887.5 1706.41,883.35 1706.41,875.05" fill="none" stroke="#f37a21" stroke-width="3" stroke-linejoin="miter" /><polygon points="1725.83,910.7 1711.83,901.95 1711.83,919.45" fill="none" stroke="#2e0b5e" stroke-width="2.8" stroke-linejoin="miter" /><polygon points="1704.17,941.7 1718.17,932.95 1718.17,950.45" fill="none" stroke="#999999" stroke-width="2.8" stroke-linejoin="miter" /><text x="1570" y="887.2" font-size="25.5" text-anchor="start" fill="#000" >M-QCTF</text><text x="1570" y="918.7" font-size="25.5" text-anchor="start" fill="#000" >P-QCTF</text><text x="1570" y="950.1" font-size="25.5" text-anchor="start" fill="#000" >QCTF</text><text x="1743.9" y="887.2" font-size="25.5" text-anchor="start" fill="#000" >Frameworks</text><text x="1743.9" y="918.7" font-size="25.5" text-anchor="start" fill="#000" >PIMs</text><text x="1743.9" y="950.1" font-size="25.5" text-anchor="start" fill="#000" >Flexible polymers</text><pattern id="hatchO" patternUnits="userSpaceOnUse" width="14.1" height="14.1"><path d="M-1,15.1 L15.1,-1 M-8,8 L8,-8 M6,22 L22,6" stroke="#f37a21" stroke-width="1.45"/></pattern><pattern id="hatchP" patternUnits="userSpaceOnUse" width="14.1" height="14.1"><path d="M-1,15.1 L15.1,-1 M-8,8 L8,-8 M6,22 L22,6" stroke="#2e0b5e" stroke-width="1.45"/></pattern><rect x="1795" y="1111.8" width="185.5" height="395.2" fill="#cffcee"/><rect x="149.5" y="1142.2" width="27.2" height="364.8" fill="#efefef" stroke="#000" stroke-width="1.5"/><rect x="203.38" y="1192.06" width="27.2" height="314.94" fill="#efefef" stroke="#000" stroke-width="1.5"/><rect x="257.26" y="1215.16" width="27.2" height="291.84" fill="#efefef" stroke="#000" stroke-width="1.5"/><line x1="270.86" y1="1210.3" x2="270.86" y2="1220.02" stroke="#000" stroke-width="1.6" /><line x1="267.26" y1="1210.3" x2="274.46" y2="1210.3" stroke="#000" stroke-width="1.6" /><line x1="267.26" y1="1220.02" x2="274.46" y2="1220.02" stroke="#000" stroke-width="1.6" /><rect x="311.14" y="1215.16" width="27.2" height="291.84" fill="#efefef" stroke="#000" stroke-width="1.5"/><rect x="365.02" y="1217.59" width="27.2" height="289.41" fill="#efefef" stroke="#000" stroke-width="1.5"/><rect x="418.9" y="1227.32" width="27.2" height="279.68" fill="#efefef" stroke="#000" stroke-width="1.5"/><rect x="472.78" y="1234.62" width="27.2" height="272.38" fill="#efefef" stroke="#000" stroke-width="1.5"/><rect x="526.66" y="1237.05" width="27.2" height="269.95" fill="#efefef" stroke="#000" stroke-width="1.5"/><line x1="540.26" y1="1228.54" x2="540.26" y2="1245.56" stroke="#000" stroke-width="1.6" /><line x1="536.66" y1="1228.54" x2="543.86" y2="1228.54" stroke="#000" stroke-width="1.6" /><line x1="536.66" y1="1245.56" x2="543.86" y2="1245.56" stroke="#000" stroke-width="1.6" /><rect x="580.54" y="1240.09" width="27.2" height="266.91" fill="#efefef" stroke="#000" stroke-width="1.5"/><rect x="634.42" y="1240.7" width="27.2" height="266.3" fill="#efefef" stroke="#000" stroke-width="1.5"/><rect x="688.3" y="1247.99" width="27.2" height="259.01" fill="#efefef" stroke="#000" stroke-width="1.5"/><rect x="742.18" y="1249.21" width="27.2" height="257.79" fill="url(#hatchP)" stroke="#2e0b5e" stroke-width="1.5"/><rect x="796.06" y="1250.42" width="27.2" height="256.58" fill="#efefef" stroke="#000" stroke-width="1.5"/><rect x="849.94" y="1273.53" width="27.2" height="233.47" fill="url(#hatchO)" stroke="#f37a21" stroke-width="1.5"/><rect x="903.82" y="1284.47" width="27.2" height="222.53" fill="#efefef" stroke="#000" stroke-width="1.5"/><rect x="957.7" y="1285.69" width="27.2" height="221.31" fill="#efefef" stroke="#000" stroke-width="1.5"/><rect x="1011.58" y="1289.34" width="27.2" height="217.66" fill="#efefef" stroke="#000" stroke-width="1.5"/><rect x="1065.46" y="1296.02" width="27.2" height="210.98" fill="url(#hatchO)" stroke="#f37a21" stroke-width="1.5"/><rect x="1119.34" y="1302.1" width="27.2" height="204.9" fill="url(#hatchP)" stroke="#2e0b5e" stroke-width="1.5"/><rect x="1173.22" y="1313.66" width="27.2" height="193.34" fill="#efefef" stroke="#000" stroke-width="1.5"/><rect x="1227.1" y="1316.09" width="27.2" height="190.91" fill="#efefef" stroke="#000" stroke-width="1.5"/><rect x="1280.98" y="1318.52" width="27.2" height="188.48" fill="#efefef" stroke="#000" stroke-width="1.5"/><rect x="1334.86" y="1318.52" width="27.2" height="188.48" fill="#efefef" stroke="#000" stroke-width="1.5"/><rect x="1388.74" y="1323.38" width="27.2" height="183.62" fill="#efefef" stroke="#000" stroke-width="1.5"/><rect x="1442.62" y="1328.25" width="27.2" height="178.75" fill="#efefef" stroke="#000" stroke-width="1.5"/><rect x="1496.5" y="1330.68" width="27.2" height="176.32" fill="#efefef" stroke="#000" stroke-width="1.5"/><line x1="1510.1" y1="1322.17" x2="1510.1" y2="1337.98" stroke="#000" stroke-width="1.6" /><line x1="1506.5" y1="1322.17" x2="1513.7" y2="1322.17" stroke="#000" stroke-width="1.6" /><line x1="1506.5" y1="1337.98" x2="1513.7" y2="1337.98" stroke="#000" stroke-width="1.6" /><rect x="1550.38" y="1330.68" width="27.2" height="176.32" fill="url(#hatchP)" stroke="#2e0b5e" stroke-width="1.5"/><rect x="1604.26" y="1331.9" width="27.2" height="175.1" fill="#efefef" stroke="#000" stroke-width="1.5"/><rect x="1658.14" y="1333.11" width="27.2" height="173.89" fill="#efefef" stroke="#000" stroke-width="1.5"/><rect x="1712.02" y="1335.54" width="27.2" height="171.46" fill="#efefef" stroke="#000" stroke-width="1.5"/><rect x="1765.9" y="1337.98" width="27.2" height="169.02" fill="#efefef" stroke="#000" stroke-width="1.5"/><rect x="1819.78" y="1256.5" width="27.2" height="250.5" fill="#a9a7bf" stroke="#000" stroke-width="1.5"/><line x1="1833.38" y1="1249.21" x2="1833.38" y2="1263.8" stroke="#000" stroke-width="1.6" /><line x1="1829.78" y1="1249.21" x2="1836.98" y2="1249.21" stroke="#000" stroke-width="1.6" /><line x1="1829.78" y1="1263.8" x2="1836.98" y2="1263.8" stroke="#000" stroke-width="1.6" /><rect x="1873.66" y="1325.21" width="27.2" height="181.79" fill="#6e74e8" stroke="#000" stroke-width="1.5"/><line x1="1887.26" y1="1319.74" x2="1887.26" y2="1330.68" stroke="#000" stroke-width="1.6" /><line x1="1883.66" y1="1319.74" x2="1890.86" y2="1319.74" stroke="#000" stroke-width="1.6" /><line x1="1883.66" y1="1330.68" x2="1890.86" y2="1330.68" stroke="#000" stroke-width="1.6" /><rect x="1927.54" y="1349.53" width="27.2" height="157.47" fill="#ee3d2f" stroke="#000" stroke-width="1.5"/><line x1="1941.14" y1="1341.62" x2="1941.14" y2="1356.22" stroke="#000" stroke-width="1.6" /><line x1="1937.54" y1="1341.62" x2="1944.74" y2="1341.62" stroke="#000" stroke-width="1.6" /><line x1="1937.54" y1="1356.22" x2="1944.74" y2="1356.22" stroke="#000" stroke-width="1.6" /><rect x="123.0" y="1111.8" width="1857.5" height="395.2" fill="none" stroke="#000" stroke-width="1.5"/><line x1="115" y1="1507" x2="123" y2="1507" stroke="#000" stroke-width="1.5" /><text x="108.5" y="1516.1" font-size="25.5" text-anchor="end" fill="#000" >0</text><line x1="115" y1="1385.4" x2="123" y2="1385.4" stroke="#000" stroke-width="1.5" /><text x="108.5" y="1394.5" font-size="25.5" text-anchor="end" fill="#000" >10</text><line x1="115" y1="1263.8" x2="123" y2="1263.8" stroke="#000" stroke-width="1.5" /><text x="108.5" y="1272.9" font-size="25.5" text-anchor="end" fill="#000" >20</text><line x1="115" y1="1142.2" x2="123" y2="1142.2" stroke="#000" stroke-width="1.5" /><text x="108.5" y="1151.3" font-size="25.5" text-anchor="end" fill="#000" >30</text><line x1="119" y1="1446.2" x2="123" y2="1446.2" stroke="#000" stroke-width="1.5" /><line x1="119" y1="1324.6" x2="123" y2="1324.6" stroke="#000" stroke-width="1.5" /><line x1="119" y1="1203" x2="123" y2="1203" stroke="#000" stroke-width="1.5" /><text x="0" y="0" font-size="25.5" text-anchor="middle" fill="#000" transform="translate(20,1312) rotate(-90)">Activation energy</text><text x="0" y="0" font-size="25.5" text-anchor="middle" fill="#000" transform="translate(58,1310) rotate(-90)">(E<tspan font-size="17" dy="6">a</tspan><tspan dy="-6">, kJ mol</tspan><tspan font-size="17" dy="-11">−1</tspan><tspan dy="11">)</tspan></text><text font-size="20.5" text-anchor="end" transform="translate(164.5,1532.3) rotate(-20)">PSF-TMA<tspan font-size="13" dy="-8">+</tspan><tspan dy="8">​</tspan>Cl<tspan font-size="13" dy="-8">-</tspan><tspan dy="8">​</tspan>-1.98</text><text font-size="20.5" text-anchor="end" transform="translate(208.68,1530.3) rotate(-20)">PS</text><text font-size="20.5" text-anchor="end" transform="translate(274.16,1528.6) rotate(-20)">Selemion<tspan font-size="13" dy="-8">®</tspan><tspan dy="8">​</tspan> AMV</text><text font-size="20.5" text-anchor="end" transform="translate(330.84,1528) rotate(-20)">ETFE-g-PVBTMA</text><text font-size="20.5" text-anchor="end" transform="translate(383.42,1529) rotate(-20)">MPRD-DT7.5</text><text font-size="20.5" text-anchor="end" transform="translate(440.2,1528.7) rotate(-20)">PAImEE(12)</text><text font-size="20.5" text-anchor="end" transform="translate(493.78,1530.2) rotate(-20)">PBI<tspan font-size="13" dy="5">2</tspan><tspan dy="-5">​</tspan>-PVBC<tspan font-size="13" dy="5">1</tspan><tspan dy="-5">​</tspan>-NMPD/Cl</text><text font-size="20.5" text-anchor="end" transform="translate(549.26,1529.5) rotate(-20)">Selemion<tspan font-size="13" dy="-8">®</tspan><tspan dy="8">​</tspan> DSV</text><text font-size="20.5" text-anchor="end" transform="translate(606.54,1528) rotate(-20)">PBPA-6-QA</text><text font-size="20.5" text-anchor="end" transform="translate(654.62,1527.8) rotate(-20)">PQVB-b-PVBF</text><text font-size="20.5" text-anchor="end" transform="translate(707.2,1530.3) rotate(-20)">PVB-MPY</text><text font-size="20.5" text-anchor="end" transform="translate(762.58,1529) rotate(-20)">MTCP-50</text><text font-size="20.5" text-anchor="end" transform="translate(820.76,1525.7) rotate(-20)">Large</text><text font-size="20.5" text-anchor="end" transform="translate(872.34,1528) rotate(-20)">COF-QA-2</text><text font-size="20.5" text-anchor="end" transform="translate(927.52,1530.3) rotate(-20)">RC-QPPO</text><text font-size="20.5" text-anchor="end" transform="translate(983.6,1527.3) rotate(-20)">PBPA50-3QA</text><text font-size="20.5" text-anchor="end" transform="translate(1034.28,1528.7) rotate(-20)">3BQA-2</text><text font-size="20.5" text-anchor="end" transform="translate(1090.16,1530.2) rotate(-20)">Q-TPF-TBP</text><text font-size="20.5" text-anchor="end" transform="translate(1144.44,1529.5) rotate(-20)">PIM-TDQTB-100</text><text font-size="20.5" text-anchor="end" transform="translate(1184.12,1531.5) rotate(-20)">PFF<tspan font-size="13" dy="-8">+</tspan><tspan dy="8">​</tspan></text><text font-size="20.5" text-anchor="end" transform="translate(1243.2,1528.5) rotate(-20)">LDPE-AEM (50 kGy)</text><text font-size="20.5" text-anchor="end" transform="translate(1305.68,1528) rotate(-20)">m-PTPA-2N</text><text font-size="20.5" text-anchor="end" transform="translate(1359.86,1527.2) rotate(-20)">PQDP-1</text><text font-size="20.5" text-anchor="end" transform="translate(1413.64,1530) rotate(-20)"><tspan font-size="14.5" dy="-6">0.36</tspan><tspan dy="6">Co</tspan><tspan font-size="14.5" dy="4">PEO</tspan><tspan dy="-4">​</tspan></text><text font-size="20.5" text-anchor="end" transform="translate(1471.42,1528.3) rotate(-20)">VPPO/VBC(2.0)-IPN</text><text font-size="20.5" text-anchor="end" transform="translate(1524.9,1530.3) rotate(-20)">Sustainion<tspan font-size="13" dy="-8">®</tspan><tspan dy="8">​</tspan> X37-50</text><text font-size="20.5" text-anchor="end" transform="translate(1578.88,1530.3) rotate(-20)">Trip-QTB</text><text font-size="20.5" text-anchor="end" transform="translate(1632.46,1528.7) rotate(-20)">PPO-8-3QA</text><text font-size="20.5" text-anchor="end" transform="translate(1686.34,1527.9) rotate(-20)">HyAEM-MP-180</text><text font-size="20.5" text-anchor="end" transform="translate(1743.12,1524.3) rotate(-20)">PB-5sphere</text><text font-size="20.5" text-anchor="end" transform="translate(1792.1,1526.7) rotate(-20)">PFBP-0</text><text font-size="20.5" text-anchor="end" transform="translate(1839.18,1528.5) rotate(-20)">QCTF</text><text font-size="20.5" text-anchor="end" transform="translate(1894.36,1529.4) rotate(-20)">P-QCTF</text><text font-size="20.5" text-anchor="end" transform="translate(1948.74,1528.5) rotate(-20)">M-QCTF</text><rect x="1300.7" y="1137" width="56.5" height="22" fill="url(#hatchO)" stroke="#f37a21" stroke-width="1.4"/><rect x="1300.7" y="1168.5" width="56.5" height="21.5" fill="url(#hatchP)" stroke="#2e0b5e" stroke-width="1.4"/><rect x="1300.7" y="1200" width="56.5" height="21.2" fill="#efefef" stroke="#000" stroke-width="1.5"/><text x="1365.2" y="1156.7" font-size="25.5" text-anchor="start" fill="#000" >Frameworks</text><text x="1365.2" y="1187.8" font-size="25.5" text-anchor="start" fill="#000" >PIMs</text><text x="1365.2" y="1218.7" font-size="25.5" text-anchor="start" fill="#000" >Flexible polymers</text><rect x="1594.2" y="1137" width="56" height="21.2" fill="#ee3d2f" stroke="#000" stroke-width="1.5"/><rect x="1594.2" y="1168.3" width="56" height="21.2" fill="#6e74e8" stroke="#000" stroke-width="1.5"/><rect x="1594.2" y="1199.6" width="56" height="21.2" fill="#a9a7bf" stroke="#000" stroke-width="1.5"/><text x="1658.7" y="1156.7" font-size="25.5" text-anchor="start" fill="#000" >M-QCTF</text><text x="1658.7" y="1187.8" font-size="25.5" text-anchor="start" fill="#000" >P-QCTF</text><text x="1658.7" y="1218.7" font-size="25.5" text-anchor="start" fill="#000" >QCTF</text><text x="1888.7" y="1159.2" font-size="23" text-anchor="middle" fill="#e8412f" font-weight="bold">This work</text>
</svg>
</body></html>
